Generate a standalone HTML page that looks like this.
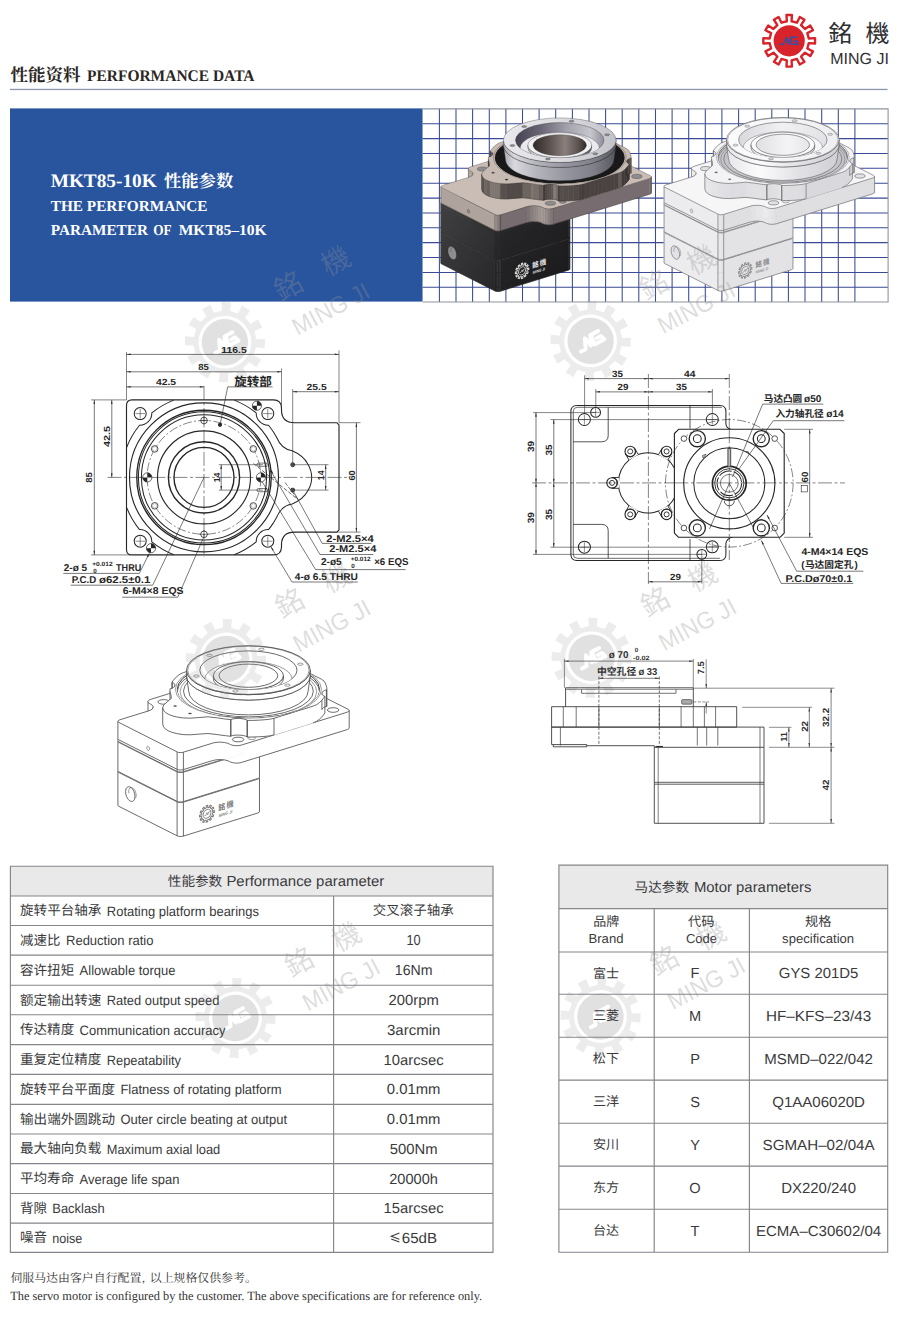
<!DOCTYPE html>
<html><head><meta charset="utf-8"><title>MKT85-10K Performance Data</title>
<style>
html,body{margin:0;padding:0;background:#fff;}
body{width:900px;height:1324px;overflow:hidden;font-family:"Liberation Sans",sans-serif;}
svg{display:block;position:absolute;left:0;top:0;}
text{font-family:"Liberation Sans","Noto Sans CJK SC",sans-serif;text-rendering:geometricPrecision;}
.sf{font-family:"Liberation Serif","Noto Serif CJK SC",serif;}
.tc{font-family:"Liberation Sans","Noto Sans CJK TC",sans-serif;}
</style></head><body>
<svg width="900" height="1324" viewBox="0 0 900 1324">
<!-- sec_header -->
<text class="sf" x="10.4" y="81.4" font-size="17.4" font-weight="bold" fill="#2b2623" textLength="70" lengthAdjust="spacingAndGlyphs">性能资料</text>
<text class="sf" x="87" y="81.4" font-size="16.2" font-weight="bold" fill="#2b2623" textLength="167.5" lengthAdjust="spacingAndGlyphs">PERFORMANCE DATA</text>
<rect x="10" y="88.8" width="877.5" height="1.3" fill="#8a97ae"/>
<path d="M786.83 21.24L786.48 14.94L791.92 14.94L791.57 21.24L796.93 22.68L799.78 17.05L804.48 19.77L801.03 25.05L804.95 28.97L810.23 25.52L812.95 30.22L807.32 33.07L808.76 38.43L815.06 38.08L815.06 43.52L808.76 43.17L807.32 48.53L812.95 51.38L810.23 56.08L804.95 52.63L801.03 56.55L804.48 61.83L799.78 64.55L796.93 58.92L791.57 60.36L791.92 66.66L786.48 66.66L786.83 60.36L781.47 58.92L778.62 64.55L773.92 61.83L777.37 56.55L773.45 52.63L768.17 56.08L765.45 51.38L771.08 48.53L769.64 43.17L763.34 43.52L763.34 38.08L769.64 38.43L771.08 33.07L765.45 30.22L768.17 25.52L773.45 28.97L777.37 25.05L773.92 19.77L778.62 17.05L781.47 22.68Z" fill="none" stroke="#d8232a" stroke-width="2.4" stroke-linejoin="round"/>
<circle cx="789.2" cy="40.8" r="15.6" fill="#d8232a"/>
<path d="M779.95 44.19L783.55 44.19L786.53 37.41L787.97 43.57L790.84 37.20L796.91 37.20M791.46 37.41L790.43 44.19L798.04 44.19L797.01 41.11L793.93 41.11" fill="none" stroke="#3a4fa0" stroke-width="1.54" stroke-linejoin="round" stroke-linecap="round"/>
<text class="tc" x="828.6" y="41.6" font-size="24" fill="#2f2f33">銘</text>
<text class="tc" x="865.4" y="41.6" font-size="24" fill="#2f2f33">機</text>
<text x="830.3" y="63.8" font-size="16" fill="#2f2f33" textLength="58.6" lengthAdjust="spacingAndGlyphs">MING JI</text>
<!-- sec_banner -->
<rect x="10" y="108.4" width="412.9" height="193.2" fill="#29559f"/>
<text class="sf" x="50.7" y="186.7" font-size="19" font-weight="bold" fill="#fff" textLength="106" lengthAdjust="spacingAndGlyphs">MKT85-10K</text>
<text class="sf" x="164" y="186.7" font-size="17.2" font-weight="bold" fill="#fff" textLength="69.2" lengthAdjust="spacingAndGlyphs">性能参数</text>
<text class="sf" x="50.7" y="210.7" font-size="15.2" font-weight="bold" fill="#fff" textLength="156.8" lengthAdjust="spacingAndGlyphs">THE PERFORMANCE</text>
<text class="sf" x="50.7" y="234.7" font-size="15.2" font-weight="bold" fill="#fff" textLength="97.3" lengthAdjust="spacingAndGlyphs">PARAMETER</text>
<text class="sf" x="153.3" y="234.7" font-size="15.2" font-weight="bold" fill="#fff" textLength="18.4" lengthAdjust="spacingAndGlyphs">OF</text>
<text class="sf" x="178.7" y="234.7" font-size="15.2" font-weight="bold" fill="#fff" textLength="88" lengthAdjust="spacingAndGlyphs">MKT85–10K</text>
<rect x="422.6" y="108.4" width="465.5" height="193.6" fill="#fff"/>
<path d="M439.4 108.4V302M456.0 108.4V302M472.6 108.4V302M489.3 108.4V302M505.9 108.4V302M522.5 108.4V302M539.1 108.4V302M555.7 108.4V302M572.4 108.4V302M589.0 108.4V302M605.6 108.4V302M622.2 108.4V302M638.8 108.4V302M655.5 108.4V302M672.1 108.4V302M688.7 108.4V302M705.3 108.4V302M721.9 108.4V302M738.6 108.4V302M755.2 108.4V302M771.8 108.4V302M788.4 108.4V302M805.0 108.4V302M821.7 108.4V302M838.3 108.4V302M854.9 108.4V302M422.6 123.8H888M422.6 138.6H888M422.6 153.5H888M422.6 168.3H888M422.6 183.2H888M422.6 198.1H888M422.6 212.9H888M422.6 227.8H888M422.6 242.6H888M422.6 257.5H888M422.6 272.4H888M422.6 287.2H888" stroke="#3a4a94" stroke-width="1.05" fill="none"/>
<path d="M422.6 108.9H888.1V302H422.6" stroke="#8f949f" stroke-width="1.1" fill="none"/>
<!-- sec_iso -->
<g transform="translate(333.7 -469.7) scale(0.91)"><defs><linearGradient id="Cbl" x1="0" y1="0" x2="1" y2="1"><stop offset="0" stop-color="#ffffff"/><stop offset="1" stop-color="#000000"/></linearGradient><linearGradient id="Ctb" x1="0" y1="0" x2="1" y2="0"><stop offset="0" stop-color="#a9a9b1"/><stop offset="0.1" stop-color="#d8d8dd"/><stop offset="0.3" stop-color="#b4b4bc"/><stop offset="0.55" stop-color="#9696a0"/><stop offset="0.8" stop-color="#80808a"/><stop offset="1" stop-color="#56565e"/></linearGradient><linearGradient id="Ctt" x1="0" y1="0" x2="1" y2="0"><stop offset="0" stop-color="#e9e9ed"/><stop offset="0.5" stop-color="#dcdce1"/><stop offset="1" stop-color="#c2c2c9"/></linearGradient><linearGradient id="Cbo" x1="0" y1="0" x2="1" y2="0"><stop offset="0" stop-color="#474250"/><stop offset="0.3" stop-color="#6d6877"/><stop offset="0.6" stop-color="#a6a5b0"/><stop offset="0.85" stop-color="#c6c6ce"/><stop offset="1" stop-color="#8d8c97"/></linearGradient><linearGradient id="Cb2" x1="0" y1="0" x2="1" y2="0"><stop offset="0" stop-color="#2f2a2a"/><stop offset="0.3" stop-color="#5a504e"/><stop offset="0.6" stop-color="#8a7f7b"/><stop offset="0.85" stop-color="#5b5250"/><stop offset="1" stop-color="#2e2928"/></linearGradient></defs><path d="M257.8 813.0L258.9 812.5L258.9 778.6L257.8 779.1Z" fill="#1b1b1d" stroke="#1b1b1d" stroke-width="0.5"/><path d="M258.9 812.5L259.5 811.8L259.5 778.0L258.9 778.6Z" fill="#1b1b1d" stroke="#1b1b1d" stroke-width="0.5"/><path d="M117.9 805.0L118.0 805.7L118.0 771.8L117.9 771.1Z" fill="#2b2b2d" stroke="#2b2b2d" stroke-width="0.5"/><path d="M118.0 805.7L118.8 806.3L118.8 772.5L118.0 771.8Z" fill="#2b2b2d" stroke="#2b2b2d" stroke-width="0.5"/><path d="M118.8 806.3L177.1 835.8L177.1 801.9L118.8 772.5Z" fill="#2b2b2d" stroke="#2b2b2d" stroke-width="0.5"/><path d="M177.1 835.8L178.4 836.3L178.4 802.4L177.1 801.9Z" fill="#28282a" stroke="#28282a" stroke-width="0.5"/><path d="M178.4 836.3L180.1 836.5L180.1 802.6L178.4 802.4Z" fill="#252527" stroke="#252527" stroke-width="0.5"/><path d="M180.1 836.5L181.8 836.4L181.8 802.6L180.1 802.6Z" fill="#212123" stroke="#212123" stroke-width="0.5"/><path d="M181.8 836.4L183.4 836.1L183.4 802.2L181.8 802.6Z" fill="#1e1e20" stroke="#1e1e20" stroke-width="0.5"/><path d="M183.4 836.1L257.8 813.0L257.8 779.1L183.4 802.2Z" fill="#1b1b1d" stroke="#1b1b1d" stroke-width="0.5"/><path d="M257.8 813.0L258.9 812.5L259.5 811.8M117.9 805.0L118.0 805.7L118.8 806.3L177.1 835.8L178.4 836.3L180.1 836.5L181.8 836.4L183.4 836.1L257.8 813.0M259.5 811.8L259.5 778.0M117.9 805.0L117.9 771.1M177.1 835.8L177.1 801.9M183.4 836.1L183.4 802.2" fill="none" stroke="#2a2624" stroke-width="0.35" stroke-linejoin="round"/><path d="M257.8 779.1L258.9 778.6L259.5 778.0L259.3 777.3L258.5 776.6L200.2 747.2L198.9 746.7L197.3 746.5L195.5 746.5L193.9 746.9L119.5 770.0L118.4 770.5L117.9 771.1L118.0 771.8L118.8 772.5L177.1 801.9L178.4 802.4L180.1 802.6L181.8 802.6L183.4 802.2Z" fill="#2c2c2e" stroke="#2a2624" stroke-width="0.35" stroke-linejoin="round"/>
<path d="M257.8 778.5L258.9 778.0L258.9 748.5L257.8 749.1Z" fill="#1b1b1d" stroke="#1b1b1d" stroke-width="0.5"/><path d="M258.9 778.0L259.5 777.3L259.5 747.9L258.9 748.5Z" fill="#1b1b1d" stroke="#1b1b1d" stroke-width="0.5"/><path d="M117.9 770.5L118.0 771.2L118.0 741.7L117.9 741.1Z" fill="#2b2b2d" stroke="#2b2b2d" stroke-width="0.5"/><path d="M118.0 771.2L118.8 771.8L118.8 742.4L118.0 741.7Z" fill="#2b2b2d" stroke="#2b2b2d" stroke-width="0.5"/><path d="M118.8 771.8L177.1 801.3L177.1 771.9L118.8 742.4Z" fill="#2b2b2d" stroke="#2b2b2d" stroke-width="0.5"/><path d="M177.1 801.3L178.4 801.8L178.4 772.3L177.1 771.9Z" fill="#28282a" stroke="#28282a" stroke-width="0.5"/><path d="M178.4 801.8L180.1 802.0L180.1 772.5L178.4 772.3Z" fill="#252527" stroke="#252527" stroke-width="0.5"/><path d="M180.1 802.0L181.8 801.9L181.8 772.5L180.1 772.5Z" fill="#212123" stroke="#212123" stroke-width="0.5"/><path d="M181.8 801.9L183.4 801.6L183.4 772.2L181.8 772.5Z" fill="#1e1e20" stroke="#1e1e20" stroke-width="0.5"/><path d="M183.4 801.6L257.8 778.5L257.8 749.1L183.4 772.2Z" fill="#1b1b1d" stroke="#1b1b1d" stroke-width="0.5"/><path d="M257.8 778.5L258.9 778.0L259.5 777.3M117.9 770.5L118.0 771.2L118.8 771.8L177.1 801.3L178.4 801.8L180.1 802.0L181.8 801.9L183.4 801.6L257.8 778.5M259.5 777.3L259.5 747.9M117.9 770.5L117.9 741.1M177.1 801.3L177.1 771.9M183.4 801.6L183.4 772.2" fill="none" stroke="#2a2624" stroke-width="0.35" stroke-linejoin="round"/><path d="M257.8 749.1L258.9 748.5L259.5 747.9L259.3 747.2L258.5 746.6L200.2 717.1L198.9 716.6L197.3 716.4L195.5 716.5L193.9 716.8L119.5 739.9L118.4 740.4L117.9 741.1L118.0 741.7L118.8 742.4L177.1 771.9L178.4 772.3L180.1 772.5L181.8 772.5L183.4 772.2Z" fill="#2c2c2e" stroke="#2a2624" stroke-width="0.35" stroke-linejoin="round"/>
<path d="M257.8 748.6L258.9 748.1L258.9 746.0L257.8 746.5Z" fill="#1b1b1d" stroke="#1b1b1d" stroke-width="0.5"/><path d="M258.9 748.1L259.5 747.4L259.5 745.3L258.9 746.0Z" fill="#1b1b1d" stroke="#1b1b1d" stroke-width="0.5"/><path d="M117.9 740.6L118.0 741.3L118.0 739.2L117.9 738.5Z" fill="#2b2b2d" stroke="#2b2b2d" stroke-width="0.5"/><path d="M118.0 741.3L118.8 741.9L118.8 739.8L118.0 739.2Z" fill="#2b2b2d" stroke="#2b2b2d" stroke-width="0.5"/><path d="M118.8 741.9L177.1 771.4L177.1 769.3L118.8 739.8Z" fill="#2b2b2d" stroke="#2b2b2d" stroke-width="0.5"/><path d="M177.1 771.4L178.4 771.8L178.4 769.8L177.1 769.3Z" fill="#28282a" stroke="#28282a" stroke-width="0.5"/><path d="M178.4 771.8L180.1 772.0L180.1 770.0L178.4 769.8Z" fill="#252527" stroke="#252527" stroke-width="0.5"/><path d="M180.1 772.0L181.8 772.0L181.8 769.9L180.1 770.0Z" fill="#212123" stroke="#212123" stroke-width="0.5"/><path d="M181.8 772.0L183.4 771.7L183.4 769.6L181.8 769.9Z" fill="#1e1e20" stroke="#1e1e20" stroke-width="0.5"/><path d="M183.4 771.7L257.8 748.6L257.8 746.5L183.4 769.6Z" fill="#1b1b1d" stroke="#1b1b1d" stroke-width="0.5"/><path d="M257.8 748.6L258.9 748.1L259.5 747.4M117.9 740.6L118.0 741.3L118.8 741.9L177.1 771.4L178.4 771.8L180.1 772.0L181.8 772.0L183.4 771.7L257.8 748.6M259.5 747.4L259.5 745.3M117.9 740.6L117.9 738.5M177.1 771.4L177.1 769.3M183.4 771.7L183.4 769.6" fill="none" stroke="#2a2624" stroke-width="0.35" stroke-linejoin="round"/>
<path d="M116.0 804.9L179.8 837.2L179.8 770.7L116.0 738.4Z" fill="url(#Cbl)" opacity="0.10"/>
<path d="M179.8 837.2L261.3 811.9L261.3 745.4L179.8 770.7Z" fill="url(#Cbl)" opacity="0.06"/>
<path d="M125.6 791.7L125.7 790.2L126.0 788.9L126.6 787.9L127.3 787.2L128.2 786.8L129.2 786.8L130.3 787.1L131.3 787.8L132.3 788.8L133.2 790.1L133.9 791.6L134.5 793.2L134.8 794.9L134.9 796.5L134.8 798.0L134.5 799.3L133.9 800.3L133.2 801.0L132.3 801.4L131.3 801.4L130.3 801.1L129.2 800.4L128.2 799.3L127.3 798.1L126.6 796.6L126.0 795.0L125.7 793.3Z" fill="#8d8d90" stroke="#2a2624" stroke-width="0.35"/>
<path d="M128.9 793.3L128.7 791.7L128.8 790.3L129.2 789.1L129.8 788.2L130.6 787.7L131.5 787.6L132.5 787.9L133.5 788.6L134.4 789.7L135.2 791.0L135.7 792.5L136.1 794.1L136.2 795.6L136.0 797.0L135.5 798.1" fill="none" stroke="#2a2624" stroke-width="0.3"/>
<g transform="translate(207.0 813.8) skewY(-17.2) scale(0.9 1)">
<path d="M-0.69 -6.26L-0.91 -8.25L0.91 -8.25L0.69 -6.26L2.53 -5.77L3.34 -7.60L4.91 -6.69L3.73 -5.08L5.08 -3.73L6.69 -4.91L7.60 -3.34L5.77 -2.53L6.26 -0.69L8.25 -0.91L8.25 0.91L6.26 0.69L5.77 2.53L7.60 3.34L6.69 4.91L5.08 3.73L3.73 5.08L4.91 6.69L3.34 7.60L2.53 5.77L0.69 6.26L0.91 8.25L-0.91 8.25L-0.69 6.26L-2.53 5.77L-3.34 7.60L-4.91 6.69L-3.73 5.08L-5.08 3.73L-6.69 4.91L-7.60 3.34L-5.77 2.53L-6.26 0.69L-8.25 0.91L-8.25 -0.91L-6.26 -0.69L-5.77 -2.53L-7.60 -3.34L-6.69 -4.91L-5.08 -3.73L-3.73 -5.08L-4.91 -6.69L-3.34 -7.60L-2.53 -5.77Z" fill="none" stroke="#e8e8e8" stroke-width="1.1" stroke-linejoin="round"/>
<circle r="4.4" fill="none" stroke="#e8e8e8" stroke-width="0.9"/><path d="M-2.8 1.2h1.6l1.2-2.4l0.8 2.4l1-2.4h2" fill="none" stroke="#e8e8e8" stroke-width="0.7"/>
<text class="tc" x="12.5" y="0.6" font-size="7.9" font-weight="bold" fill="#e8e8e8">銘</text><text class="tc" x="21.7" y="0.6" font-size="7.9" font-weight="bold" fill="#e8e8e8">機</text>
<text x="13" y="7" font-size="4.2" font-weight="bold" font-style="italic" fill="#e8e8e8" textLength="15" lengthAdjust="spacingAndGlyphs">MING JI</text>
</g>
<path d="M177.1 769.3L178.4 769.8L178.4 752.4L177.1 751.9Z" fill="#a69b96" stroke="#a69b96" stroke-width="0.5"/><path d="M178.4 769.8L180.1 770.0L180.1 752.6L178.4 752.4Z" fill="#998e8b" stroke="#998e8b" stroke-width="0.5"/><path d="M180.1 770.0L181.8 769.9L181.8 752.5L180.1 752.6Z" fill="#8d8382" stroke="#8d8382" stroke-width="0.5"/><path d="M181.8 769.9L183.4 769.6L183.4 752.2L181.8 752.5Z" fill="#807677" stroke="#807677" stroke-width="0.5"/><path d="M183.4 769.6L212.4 760.6L212.4 743.2L183.4 752.2Z" fill="#776d70" stroke="#776d70" stroke-width="0.5"/><path d="M212.4 760.6L215.1 760.0L215.1 742.5L212.4 743.2Z" fill="#7e7375" stroke="#7e7375" stroke-width="0.5"/><path d="M215.1 760.0L218.2 759.6L218.2 742.2L215.1 742.5Z" fill="#877d7d" stroke="#877d7d" stroke-width="0.5"/><path d="M218.2 759.6L221.3 759.6L221.3 742.2L218.2 742.2Z" fill="#8f8584" stroke="#8f8584" stroke-width="0.5"/><path d="M221.3 759.6L224.4 759.9L224.4 742.5L221.3 742.2Z" fill="#978c89" stroke="#978c89" stroke-width="0.5"/><path d="M224.4 759.9L227.1 760.5L227.1 743.1L224.4 742.5Z" fill="#9f9490" stroke="#9f9490" stroke-width="0.5"/><path d="M227.1 760.5L229.4 761.4L229.4 744.0L227.1 743.1Z" fill="#a89e98" stroke="#a89e98" stroke-width="0.5"/><path d="M229.4 761.4L230.4 762.0L230.4 744.5L229.4 744.0Z" fill="#afa49d" stroke="#afa49d" stroke-width="0.5"/><path d="M230.4 762.0L232.7 762.7L232.7 745.3L230.4 744.5Z" fill="#a69b96" stroke="#a69b96" stroke-width="0.5"/><path d="M232.7 762.7L235.6 763.1L235.6 745.7L232.7 745.3Z" fill="#998e8b" stroke="#998e8b" stroke-width="0.5"/><path d="M235.6 763.1L238.6 763.0L238.6 745.6L235.6 745.7Z" fill="#8d8382" stroke="#8d8382" stroke-width="0.5"/><path d="M238.6 763.0L241.3 762.5L241.3 745.1L238.6 745.6Z" fill="#807677" stroke="#807677" stroke-width="0.5"/><path d="M241.3 762.5L347.2 729.6L347.2 712.2L241.3 745.1Z" fill="#776d70" stroke="#776d70" stroke-width="0.5"/><path d="M347.2 729.6L348.8 728.7L348.8 711.3L347.2 712.2Z" fill="#776d70" stroke="#776d70" stroke-width="0.5"/><path d="M348.8 728.7L349.2 727.7L349.2 710.3L348.8 711.3Z" fill="#776d70" stroke="#776d70" stroke-width="0.5"/><path d="M148.0 718.8L148.2 720.0L148.2 702.6L148.0 701.4Z" fill="#afa49d" stroke="#afa49d" stroke-width="0.5"/><path d="M148.2 720.0L149.6 721.1L149.6 703.6L148.2 702.6Z" fill="#afa49d" stroke="#afa49d" stroke-width="0.5"/><path d="M149.6 721.1L150.7 721.6L150.7 704.2L149.6 703.6Z" fill="#afa49d" stroke="#afa49d" stroke-width="0.5"/><path d="M150.7 721.6L152.3 722.7L152.3 705.3L150.7 704.2Z" fill="#afa49d" stroke="#afa49d" stroke-width="0.5"/><path d="M152.3 722.7L153.1 723.9L153.1 706.5L152.3 705.3Z" fill="#afa49d" stroke="#afa49d" stroke-width="0.5"/><path d="M117.9 738.5L118.0 739.2L118.0 721.8L117.9 721.1Z" fill="#afa49d" stroke="#afa49d" stroke-width="0.5"/><path d="M118.0 739.2L118.8 739.8L118.8 722.4L118.0 721.8Z" fill="#afa49d" stroke="#afa49d" stroke-width="0.5"/><path d="M118.8 739.8L177.1 769.3L177.1 751.9L118.8 722.4Z" fill="#afa49d" stroke="#afa49d" stroke-width="0.5"/><path d="M177.1 769.3L178.4 769.8L180.1 770.0L181.8 769.9L183.4 769.6L212.4 760.6L215.1 760.0L218.2 759.6L221.3 759.6L224.4 759.9L227.1 760.5L229.4 761.4L230.4 762.0L232.7 762.7L235.6 763.1L238.6 763.0L241.3 762.5L347.2 729.6L348.8 728.7L349.2 727.7M148.0 718.8L148.2 720.0L149.6 721.1L150.7 721.6L152.3 722.7L153.1 723.9M117.9 738.5L118.0 739.2L118.8 739.8L177.1 769.3M177.1 769.3L177.1 751.9M183.4 769.6L183.4 752.2M349.2 727.7L349.2 710.3M148.0 718.8L148.0 701.4M153.1 723.9L153.1 706.5M117.9 738.5L117.9 721.1" fill="none" stroke="#2a2624" stroke-width="0.35" stroke-linejoin="round"/><path d="M177.1 751.9L178.4 752.4L180.1 752.6L181.8 752.5L183.4 752.2L212.4 743.2L215.1 742.5L218.2 742.2L221.3 742.2L224.4 742.5L227.1 743.1L229.4 744.0L230.4 744.5L232.7 745.3L235.6 745.7L238.6 745.6L241.3 745.1L347.2 712.2L348.8 711.3L349.2 710.3L348.1 709.3L264.1 666.8L261.9 666.1L259.3 666.0L256.8 666.4L150.9 699.3L148.9 700.2L148.0 701.4L148.2 702.6L149.6 703.6L150.7 704.2L152.3 705.3L153.1 706.5L153.1 707.7L152.4 708.9L150.8 710.0L148.6 710.9L119.5 719.9L118.4 720.4L117.9 721.1L118.0 721.8L118.8 722.4Z" fill="#c9bdb5" stroke="#2a2624" stroke-width="0.35" stroke-linejoin="round"/>
<path d="M146.8 747.7L146.9 746.8L147.3 746.3L147.8 746.2L148.4 746.5L149.0 747.2L149.4 748.1L149.5 749.1L149.4 749.9L149.0 750.4L148.4 750.5L147.8 750.2L147.3 749.5L146.9 748.6Z" fill="#8d8d90" stroke="#2a2624" stroke-width="0.3"/>
<ellipse cx="238.1" cy="739.5" rx="5.7" ry="2.3" fill="#8d8d90" stroke="#2a2624" stroke-width="0.35"/>
<ellipse cx="333.1" cy="710.0" rx="5.7" ry="2.3" fill="#8d8d90" stroke="#2a2624" stroke-width="0.35"/>
<ellipse cx="163.6" cy="701.9" rx="5.7" ry="2.3" fill="#8d8d90" stroke="#2a2624" stroke-width="0.35"/>
<ellipse cx="258.7" cy="672.4" rx="5.7" ry="2.3" fill="#8d8d90" stroke="#2a2624" stroke-width="0.35"/>
<ellipse cx="251.7" cy="738.1" rx="3.8" ry="1.5" fill="#8d8d90" stroke="#2a2624" stroke-width="0.3"/>
<path d="M168.3 730.8L171.9 732.3L171.9 715.7L168.3 714.2Z" fill="#69605d" stroke="#69605d" stroke-width="0.5"/><path d="M171.9 732.3L176.8 733.6L176.8 717.0L171.9 715.7Z" fill="#807773" stroke="#807773" stroke-width="0.5"/><path d="M176.8 733.6L183.1 734.6L183.1 717.9L176.8 717.0Z" fill="#7e7671" stroke="#7e7671" stroke-width="0.5"/><path d="M183.1 734.6L190.2 734.8L190.2 718.2L183.1 717.9Z" fill="#57504d" stroke="#57504d" stroke-width="0.5"/><path d="M190.2 734.8L198.2 734.2L198.2 717.6L190.2 718.2Z" fill="#514a48" stroke="#514a48" stroke-width="0.5"/><path d="M198.2 734.2L207.9 733.5L207.9 716.8L198.2 717.6Z" fill="#514a47" stroke="#514a47" stroke-width="0.5"/><path d="M207.9 733.5L217.5 734.6L217.5 717.9L207.9 716.8Z" fill="#6c645f" stroke="#6c645f" stroke-width="0.5"/><path d="M217.5 734.6L220.1 735.0L220.1 718.3L217.5 717.9Z" fill="#7f7672" stroke="#7f7672" stroke-width="0.5"/><path d="M220.1 735.0L225.4 735.7L225.4 719.1L220.1 718.3Z" fill="#776e69" stroke="#776e69" stroke-width="0.5"/><path d="M225.4 735.7L230.8 736.3L230.8 719.6L225.4 719.1Z" fill="#68605c" stroke="#68605c" stroke-width="0.5"/><path d="M230.8 736.1L232.7 735.6L232.7 719.0L230.8 719.5Z" fill="#463f3d" stroke="#463f3d" stroke-width="0.5"/><path d="M232.7 735.6L234.9 735.2L234.9 718.6L232.7 719.0Z" fill="#4c4643" stroke="#4c4643" stroke-width="0.5"/><path d="M234.9 735.2L237.2 735.1L237.2 718.4L234.9 718.6Z" fill="#514a48" stroke="#514a48" stroke-width="0.5"/><path d="M237.2 735.1L239.5 735.1L239.5 718.4L237.2 718.4Z" fill="#564e4c" stroke="#564e4c" stroke-width="0.5"/><path d="M239.5 735.1L241.8 735.3L241.8 718.7L239.5 718.4Z" fill="#605955" stroke="#605955" stroke-width="0.5"/><path d="M241.8 735.3L243.9 735.7L243.9 719.0L241.8 718.7Z" fill="#89807b" stroke="#89807b" stroke-width="0.5"/><path d="M243.9 735.7L245.8 736.2L245.8 719.6L243.9 719.0Z" fill="#776e6a" stroke="#776e6a" stroke-width="0.5"/><path d="M245.8 736.2L247.3 736.9L247.3 720.3L245.8 719.6Z" fill="#6a625e" stroke="#6a625e" stroke-width="0.5"/><path d="M247.1 737.1L252.8 737.0L252.8 720.4L247.1 720.4Z" fill="#554e4b" stroke="#554e4b" stroke-width="0.5"/><path d="M252.8 737.0L258.4 736.8L258.4 720.2L252.8 720.4Z" fill="#534c4a" stroke="#534c4a" stroke-width="0.5"/><path d="M258.4 736.8L263.9 736.5L263.9 719.8L258.4 720.2Z" fill="#524b48" stroke="#524b48" stroke-width="0.5"/><path d="M263.9 736.5L269.4 735.9L269.4 719.3L263.9 719.8Z" fill="#504947" stroke="#504947" stroke-width="0.5"/><path d="M269.4 735.9L274.0 734.9L274.0 718.3L269.4 719.3Z" fill="#494240" stroke="#494240" stroke-width="0.5"/><path d="M274.0 734.9L278.3 733.6L278.3 717.0L274.0 718.3Z" fill="#494240" stroke="#494240" stroke-width="0.5"/><path d="M278.3 733.6L282.6 732.2L282.6 715.6L278.3 717.0Z" fill="#494240" stroke="#494240" stroke-width="0.5"/><path d="M282.6 732.2L287.0 730.9L287.0 714.3L282.6 715.6Z" fill="#494240" stroke="#494240" stroke-width="0.5"/><path d="M287.0 730.9L291.4 729.5L291.4 712.9L287.0 714.3Z" fill="#494240" stroke="#494240" stroke-width="0.5"/><path d="M291.4 729.5L295.8 728.1L295.8 711.5L291.4 712.9Z" fill="#494240" stroke="#494240" stroke-width="0.5"/><path d="M295.8 728.1L300.2 726.8L300.2 710.1L295.8 711.5Z" fill="#494240" stroke="#494240" stroke-width="0.5"/><path d="M300.2 726.8L304.6 725.4L304.6 708.8L300.2 710.1Z" fill="#494240" stroke="#494240" stroke-width="0.5"/><path d="M304.6 725.4L308.9 724.1L308.9 707.4L304.6 708.8Z" fill="#494240" stroke="#494240" stroke-width="0.5"/><path d="M308.9 724.1L313.2 722.8L313.2 706.1L308.9 707.4Z" fill="#494240" stroke="#494240" stroke-width="0.5"/><path d="M313.2 722.8L316.8 721.2L316.8 704.6L313.2 706.1Z" fill="#625a57" stroke="#625a57" stroke-width="0.5"/><path d="M316.8 721.2L319.4 719.2L319.4 702.6L316.8 704.6Z" fill="#423c3a" stroke="#423c3a" stroke-width="0.5"/><path d="M319.4 719.2L321.6 717.2L321.6 700.5L319.4 702.6Z" fill="#3f3a38" stroke="#3f3a38" stroke-width="0.5"/><path d="M321.6 717.2L323.4 715.1L323.4 698.4L321.6 700.5Z" fill="#3d3836" stroke="#3d3836" stroke-width="0.5"/><path d="M323.4 715.1L324.9 712.9L324.9 696.3L323.4 698.4Z" fill="#3b3634" stroke="#3b3634" stroke-width="0.5"/><path d="M321.9 709.5L322.4 708.6L322.4 692.0L321.9 692.9Z" fill="#3a3533" stroke="#3a3533" stroke-width="0.5"/><path d="M322.4 708.6L323.3 707.8L323.3 691.1L322.4 692.0Z" fill="#403a39" stroke="#403a39" stroke-width="0.5"/><path d="M323.3 707.8L324.7 707.0L324.7 690.4L323.3 691.1Z" fill="#554e4b" stroke="#554e4b" stroke-width="0.5"/><path d="M324.7 707.0L326.4 706.4L326.4 689.8L324.7 690.4Z" fill="#534c4a" stroke="#534c4a" stroke-width="0.5"/><path d="M326.4 706.4L326.9 706.5L326.9 689.8L326.4 689.8Z" fill="#837975" stroke="#837975" stroke-width="0.5"/><path d="M265.9 675.6L266.0 675.8L266.0 659.2L265.9 659.0Z" fill="#4b4543" stroke="#4b4543" stroke-width="0.5"/><path d="M249.5 675.0L249.7 674.9L249.7 658.2L249.5 658.4Z" fill="#3f3a38" stroke="#3f3a38" stroke-width="0.5"/><path d="M171.9 699.0L172.3 699.0L172.3 682.4L171.9 682.4Z" fill="#524b48" stroke="#524b48" stroke-width="0.5"/><path d="M172.3 699.0L173.7 699.7L173.7 683.1L172.3 682.4Z" fill="#6d6460" stroke="#6d6460" stroke-width="0.5"/><path d="M173.7 699.7L174.5 700.6L174.5 684.0L173.7 683.1Z" fill="#615956" stroke="#615956" stroke-width="0.5"/><path d="M174.5 700.6L175.0 701.5L175.0 684.9L174.5 684.0Z" fill="#4e4845" stroke="#4e4845" stroke-width="0.5"/><path d="M170.0 707.7L170.5 709.9L170.5 693.3L170.0 691.1Z" fill="#47413f" stroke="#47413f" stroke-width="0.5"/><path d="M170.5 709.9L170.9 711.0L170.9 694.4L170.5 693.3Z" fill="#4a4441" stroke="#4a4441" stroke-width="0.5"/><path d="M170.9 711.0L171.3 715.0L171.3 698.3L170.9 694.4Z" fill="#47413f" stroke="#47413f" stroke-width="0.5"/><path d="M162.7 724.2L163.6 726.9L163.6 710.3L162.7 707.6Z" fill="#4a4341" stroke="#4a4341" stroke-width="0.5"/><path d="M163.6 726.9L165.5 729.1L165.5 712.5L163.6 710.3Z" fill="#5c5451" stroke="#5c5451" stroke-width="0.5"/><path d="M165.5 729.1L168.3 730.8L168.3 714.2L165.5 712.5Z" fill="#6d6460" stroke="#6d6460" stroke-width="0.5"/><path d="M168.3 730.8L171.9 732.3L176.8 733.6L183.1 734.6L190.2 734.8L198.2 734.2L207.9 733.5L217.5 734.6L220.1 735.0L225.4 735.7L230.8 736.3M230.8 736.1L232.7 735.6L234.9 735.2L237.2 735.1L239.5 735.1L241.8 735.3L243.9 735.7L245.8 736.2L247.3 736.9M247.1 737.1L252.8 737.0L258.4 736.8L263.9 736.5L269.4 735.9L274.0 734.9M313.2 722.8L316.8 721.2L319.4 719.2L321.6 717.2L323.4 715.1L324.9 712.9M321.9 709.5L322.4 708.6L323.3 707.8L324.7 707.0L326.4 706.4L326.9 706.5M265.9 675.6L266.0 675.8M249.5 675.0L249.7 674.9M171.9 699.0L172.3 699.0L173.7 699.7L174.5 700.6L175.0 701.5M170.0 707.7L170.5 709.9L170.9 711.0L171.3 715.0M162.7 724.2L163.6 726.9L165.5 729.1L168.3 730.8M230.8 736.3L230.8 719.6M230.8 736.1L230.8 719.5M247.3 736.9L247.3 720.3M247.1 737.1L247.1 720.4M274.0 734.9L274.0 718.3M324.9 712.9L324.9 696.3M321.9 709.5L321.9 692.9M326.4 706.4L326.4 689.8M326.9 706.5L326.9 689.8M265.9 675.6L265.9 659.0M266.0 675.8L266.0 659.2M249.5 675.0L249.5 658.4M249.7 674.9L249.7 658.2M171.9 699.0L171.9 682.4M172.3 699.0L172.3 682.4M175.0 701.5L175.0 684.9M170.0 707.7L170.0 691.1M171.3 715.0L171.3 698.3M162.7 724.2L162.7 707.6" fill="none" stroke="#2a2624" stroke-width="0.35" stroke-linejoin="round"/><path d="M168.3 714.2L171.9 715.7L176.8 717.0L183.1 717.9L190.2 718.2L198.2 717.6L207.9 716.8L217.5 717.9L220.1 718.3L225.4 719.1L230.8 719.6L230.8 719.5L232.7 719.0L234.9 718.6L237.2 718.4L239.5 718.4L241.8 718.7L243.9 719.0L245.8 719.6L247.3 720.3L247.1 720.4L252.8 720.4L258.4 720.2L263.9 719.8L269.4 719.3L274.0 718.3L278.3 717.0L282.6 715.6L287.0 714.3L291.4 712.9L295.8 711.5L300.2 710.1L304.6 708.8L308.9 707.4L313.2 706.1L316.8 704.6L319.4 702.6L321.6 700.5L323.4 698.4L324.9 696.3L324.4 696.3L323.1 695.6L322.2 694.7L321.8 693.8L321.9 692.9L322.4 692.0L323.3 691.1L324.7 690.4L326.4 689.8L326.9 689.8L326.8 687.6L326.2 685.4L325.3 683.2L324.0 681.0L321.4 679.2L318.1 677.5L314.7 675.8L311.3 674.0L307.8 672.3L304.4 670.5L300.9 668.8L297.5 667.1L294.1 665.3L290.8 663.7L286.9 662.2L281.9 661.2L276.7 660.3L271.4 659.6L265.9 659.0L266.0 659.2L264.1 659.7L261.9 660.1L259.6 660.2L257.3 660.2L255.0 660.0L252.9 659.6L251.0 659.1L249.5 658.4L249.7 658.2L244.0 658.3L238.4 658.5L232.9 658.8L227.4 659.4L222.8 660.4L218.5 661.7L214.2 663.0L209.8 664.4L205.4 665.8L201.0 667.2L196.6 668.5L192.2 669.9L187.9 671.2L183.6 672.5L180.0 674.1L177.4 676.1L175.2 678.1L173.4 680.2L171.9 682.4L172.3 682.4L173.7 683.1L174.5 684.0L175.0 684.9L174.9 685.8L174.4 686.7L173.5 687.5L172.1 688.3L170.3 688.9L169.9 688.8L170.0 691.1L170.5 693.3L170.9 694.4L171.3 698.3L167.2 701.9L163.8 704.8L162.7 707.6L163.6 710.3L165.5 712.5Z" fill="#c6bab2" stroke="#2a2624" stroke-width="0.35" stroke-linejoin="round"/>
<ellipse cx="190.0" cy="713.5" rx="1.6" ry="0.6" fill="#2a2624" stroke="#2a2624" stroke-width="0.3"/>
<ellipse cx="175.1" cy="706.0" rx="1.6" ry="0.6" fill="#2a2624" stroke="#2a2624" stroke-width="0.3"/>
<ellipse cx="248.3" cy="713.7" rx="1.4" ry="0.5" fill="#2a2624" stroke="#2a2624" stroke-width="0.3"/>
<ellipse cx="248.4" cy="689.3" rx="73.0" ry="28.9" fill="#c6bab2" stroke="#2a2624" stroke-width="0.3"/>
<ellipse cx="248.4" cy="689.3" rx="71.1" ry="28.2" fill="#18181a" stroke="#2a2624" stroke-width="0.45499999999999996"/>
<clipPath id="Ccs"><ellipse cx="248.4" cy="689.3" rx="71.1" ry="28.2"/></clipPath>
<g clip-path="url(#Ccs)">
<ellipse cx="248.4" cy="691.7" rx="71.1" ry="28.2" fill="#18181a" stroke="#2a2624" stroke-width="0.35"/>
<ellipse cx="248.4" cy="691.7" rx="68.3" ry="27.1" fill="#18181a" stroke="#2a2624" stroke-width="0.3"/>
<ellipse cx="248.4" cy="691.2" rx="64.9" ry="25.7" fill="#18181a" stroke="#2a2624" stroke-width="0.35"/>
</g>
<path d="M188.7 691.2A59.7 23.7 0 0 0 308.1 691.2L310.3 675.6A61.9 24.5 0 0 1 186.5 675.6Z" fill="url(#Ctb)" stroke="#2a2624" stroke-width="0.35"/>
<path d="M186.5 675.6A61.9 24.5 0 0 0 310.3 675.6L310.3 670.2A61.9 24.5 0 0 1 186.5 670.2Z" fill="url(#Ctb)" stroke="#2a2624" stroke-width="0.35"/><ellipse cx="248.4" cy="670.2" rx="61.9" ry="24.5" fill="url(#Ctt)" stroke="#2a2624" stroke-width="0.35"/>
<ellipse cx="261.4" cy="649.3" rx="2.8" ry="1.1" fill="#8d8d90" stroke="#2a2624" stroke-width="0.3"/>
<ellipse cx="209.4" cy="655.3" rx="2.8" ry="1.1" fill="#8d8d90" stroke="#2a2624" stroke-width="0.3"/>
<ellipse cx="196.4" cy="676.1" rx="2.8" ry="1.1" fill="#8d8d90" stroke="#2a2624" stroke-width="0.3"/>
<ellipse cx="235.4" cy="691.0" rx="2.8" ry="1.1" fill="#8d8d90" stroke="#2a2624" stroke-width="0.3"/>
<ellipse cx="287.4" cy="685.1" rx="2.8" ry="1.1" fill="#8d8d90" stroke="#2a2624" stroke-width="0.3"/>
<ellipse cx="300.4" cy="664.2" rx="2.8" ry="1.1" fill="#8d8d90" stroke="#2a2624" stroke-width="0.3"/>
<ellipse cx="248.4" cy="670.2" rx="48.6" ry="19.3" fill="url(#Cbo)" stroke="#2a2624" stroke-width="0.35"/>
<clipPath id="Ccb"><ellipse cx="248.4" cy="670.2" rx="48.6" ry="19.3"/></clipPath>
<g clip-path="url(#Ccb)">
<ellipse cx="248.4" cy="678.7" rx="43.5" ry="17.2" fill="#e9e9ee" stroke="#2a2624" stroke-width="0.3"/>
<path d="M213.4 678.7A35.0 13.9 0 0 0 283.4 678.7L283.4 675.7A35.0 13.9 0 0 1 213.4 675.7Z" fill="url(#Ctb)" stroke="#2a2624" stroke-width="0.35"/><ellipse cx="248.4" cy="675.7" rx="35.0" ry="13.9" fill="#f1f1f4" stroke="#2a2624" stroke-width="0.35"/>
<ellipse cx="248.4" cy="675.7" rx="29.3" ry="11.6" fill="url(#Cb2)" stroke="#2a2624" stroke-width="0.35"/>
</g></g>
<g transform="translate(556.8 -470.1) scale(0.91)"><defs><linearGradient id="Gtb" x1="0" y1="0" x2="1" y2="0"><stop offset="0" stop-color="#e6e6ea"/><stop offset="0.3" stop-color="#fbfbfc"/><stop offset="0.65" stop-color="#e1e1e5"/><stop offset="1" stop-color="#cfcfd4"/></linearGradient><linearGradient id="Gtt" x1="0" y1="0" x2="1" y2="0"><stop offset="0" stop-color="#fbfbfc"/><stop offset="1" stop-color="#efeff2"/></linearGradient><linearGradient id="Gbo" x1="0" y1="0" x2="1" y2="0"><stop offset="0" stop-color="#d9d9de"/><stop offset="0.5" stop-color="#f1f1f3"/><stop offset="1" stop-color="#e2e2e6"/></linearGradient><linearGradient id="Gb2" x1="0" y1="0" x2="1" y2="0"><stop offset="0" stop-color="#e0e0e4"/><stop offset="0.6" stop-color="#f4f4f6"/><stop offset="1" stop-color="#e6e6ea"/></linearGradient></defs><path d="M257.8 813.0L258.9 812.5L258.9 778.6L257.8 779.1Z" fill="#e3e3e6" stroke="#e3e3e6" stroke-width="0.5"/><path d="M258.9 812.5L259.5 811.8L259.5 778.0L258.9 778.6Z" fill="#e3e3e6" stroke="#e3e3e6" stroke-width="0.5"/><path d="M117.9 805.0L118.0 805.7L118.0 771.8L117.9 771.1Z" fill="#ececee" stroke="#ececee" stroke-width="0.5"/><path d="M118.0 805.7L118.8 806.3L118.8 772.5L118.0 771.8Z" fill="#ececee" stroke="#ececee" stroke-width="0.5"/><path d="M118.8 806.3L177.1 835.8L177.1 801.9L118.8 772.5Z" fill="#ececee" stroke="#ececee" stroke-width="0.5"/><path d="M177.1 835.8L178.4 836.3L178.4 802.4L177.1 801.9Z" fill="#ebebed" stroke="#ebebed" stroke-width="0.5"/><path d="M178.4 836.3L180.1 836.5L180.1 802.6L178.4 802.4Z" fill="#e8e8eb" stroke="#e8e8eb" stroke-width="0.5"/><path d="M180.1 836.5L181.8 836.4L181.8 802.6L180.1 802.6Z" fill="#e7e7e9" stroke="#e7e7e9" stroke-width="0.5"/><path d="M181.8 836.4L183.4 836.1L183.4 802.2L181.8 802.6Z" fill="#e4e4e7" stroke="#e4e4e7" stroke-width="0.5"/><path d="M183.4 836.1L257.8 813.0L257.8 779.1L183.4 802.2Z" fill="#e3e3e6" stroke="#e3e3e6" stroke-width="0.5"/><path d="M257.8 813.0L258.9 812.5L259.5 811.8M117.9 805.0L118.0 805.7L118.8 806.3L177.1 835.8L178.4 836.3L180.1 836.5L181.8 836.4L183.4 836.1L257.8 813.0M259.5 811.8L259.5 778.0M117.9 805.0L117.9 771.1M177.1 835.8L177.1 801.9M183.4 836.1L183.4 802.2" fill="none" stroke="#5a5a5e" stroke-width="0.65" stroke-linejoin="round"/><path d="M257.8 779.1L258.9 778.6L259.5 778.0L259.3 777.3L258.5 776.6L200.2 747.2L198.9 746.7L197.3 746.5L195.5 746.5L193.9 746.9L119.5 770.0L118.4 770.5L117.9 771.1L118.0 771.8L118.8 772.5L177.1 801.9L178.4 802.4L180.1 802.6L181.8 802.6L183.4 802.2Z" fill="#f4f4f5" stroke="#5a5a5e" stroke-width="0.65" stroke-linejoin="round"/>
<path d="M257.8 778.5L258.9 778.0L258.9 748.5L257.8 749.1Z" fill="#e3e3e6" stroke="#e3e3e6" stroke-width="0.5"/><path d="M258.9 778.0L259.5 777.3L259.5 747.9L258.9 748.5Z" fill="#e3e3e6" stroke="#e3e3e6" stroke-width="0.5"/><path d="M117.9 770.5L118.0 771.2L118.0 741.7L117.9 741.1Z" fill="#ececee" stroke="#ececee" stroke-width="0.5"/><path d="M118.0 771.2L118.8 771.8L118.8 742.4L118.0 741.7Z" fill="#ececee" stroke="#ececee" stroke-width="0.5"/><path d="M118.8 771.8L177.1 801.3L177.1 771.9L118.8 742.4Z" fill="#ececee" stroke="#ececee" stroke-width="0.5"/><path d="M177.1 801.3L178.4 801.8L178.4 772.3L177.1 771.9Z" fill="#ebebed" stroke="#ebebed" stroke-width="0.5"/><path d="M178.4 801.8L180.1 802.0L180.1 772.5L178.4 772.3Z" fill="#e8e8eb" stroke="#e8e8eb" stroke-width="0.5"/><path d="M180.1 802.0L181.8 801.9L181.8 772.5L180.1 772.5Z" fill="#e7e7e9" stroke="#e7e7e9" stroke-width="0.5"/><path d="M181.8 801.9L183.4 801.6L183.4 772.2L181.8 772.5Z" fill="#e4e4e7" stroke="#e4e4e7" stroke-width="0.5"/><path d="M183.4 801.6L257.8 778.5L257.8 749.1L183.4 772.2Z" fill="#e3e3e6" stroke="#e3e3e6" stroke-width="0.5"/><path d="M257.8 778.5L258.9 778.0L259.5 777.3M117.9 770.5L118.0 771.2L118.8 771.8L177.1 801.3L178.4 801.8L180.1 802.0L181.8 801.9L183.4 801.6L257.8 778.5M259.5 777.3L259.5 747.9M117.9 770.5L117.9 741.1M177.1 801.3L177.1 771.9M183.4 801.6L183.4 772.2" fill="none" stroke="#5a5a5e" stroke-width="0.65" stroke-linejoin="round"/><path d="M257.8 749.1L258.9 748.5L259.5 747.9L259.3 747.2L258.5 746.6L200.2 717.1L198.9 716.6L197.3 716.4L195.5 716.5L193.9 716.8L119.5 739.9L118.4 740.4L117.9 741.1L118.0 741.7L118.8 742.4L177.1 771.9L178.4 772.3L180.1 772.5L181.8 772.5L183.4 772.2Z" fill="#f4f4f5" stroke="#5a5a5e" stroke-width="0.65" stroke-linejoin="round"/>
<path d="M257.8 748.6L258.9 748.1L258.9 746.0L257.8 746.5Z" fill="#e3e3e6" stroke="#e3e3e6" stroke-width="0.5"/><path d="M258.9 748.1L259.5 747.4L259.5 745.3L258.9 746.0Z" fill="#e3e3e6" stroke="#e3e3e6" stroke-width="0.5"/><path d="M117.9 740.6L118.0 741.3L118.0 739.2L117.9 738.5Z" fill="#ececee" stroke="#ececee" stroke-width="0.5"/><path d="M118.0 741.3L118.8 741.9L118.8 739.8L118.0 739.2Z" fill="#ececee" stroke="#ececee" stroke-width="0.5"/><path d="M118.8 741.9L177.1 771.4L177.1 769.3L118.8 739.8Z" fill="#ececee" stroke="#ececee" stroke-width="0.5"/><path d="M177.1 771.4L178.4 771.8L178.4 769.8L177.1 769.3Z" fill="#ebebed" stroke="#ebebed" stroke-width="0.5"/><path d="M178.4 771.8L180.1 772.0L180.1 770.0L178.4 769.8Z" fill="#e8e8eb" stroke="#e8e8eb" stroke-width="0.5"/><path d="M180.1 772.0L181.8 772.0L181.8 769.9L180.1 770.0Z" fill="#e7e7e9" stroke="#e7e7e9" stroke-width="0.5"/><path d="M181.8 772.0L183.4 771.7L183.4 769.6L181.8 769.9Z" fill="#e4e4e7" stroke="#e4e4e7" stroke-width="0.5"/><path d="M183.4 771.7L257.8 748.6L257.8 746.5L183.4 769.6Z" fill="#e3e3e6" stroke="#e3e3e6" stroke-width="0.5"/><path d="M257.8 748.6L258.9 748.1L259.5 747.4M117.9 740.6L118.0 741.3L118.8 741.9L177.1 771.4L178.4 771.8L180.1 772.0L181.8 772.0L183.4 771.7L257.8 748.6M259.5 747.4L259.5 745.3M117.9 740.6L117.9 738.5M177.1 771.4L177.1 769.3M183.4 771.7L183.4 769.6" fill="none" stroke="#5a5a5e" stroke-width="0.65" stroke-linejoin="round"/>
<path d="M125.6 791.7L125.7 790.2L126.0 788.9L126.6 787.9L127.3 787.2L128.2 786.8L129.2 786.8L130.3 787.1L131.3 787.8L132.3 788.8L133.2 790.1L133.9 791.6L134.5 793.2L134.8 794.9L134.9 796.5L134.8 798.0L134.5 799.3L133.9 800.3L133.2 801.0L132.3 801.4L131.3 801.4L130.3 801.1L129.2 800.4L128.2 799.3L127.3 798.1L126.6 796.6L126.0 795.0L125.7 793.3Z" fill="#e2e2e6" stroke="#5a5a5e" stroke-width="0.65"/>
<path d="M128.9 793.3L128.7 791.7L128.8 790.3L129.2 789.1L129.8 788.2L130.6 787.7L131.5 787.6L132.5 787.9L133.5 788.6L134.4 789.7L135.2 791.0L135.7 792.5L136.1 794.1L136.2 795.6L136.0 797.0L135.5 798.1" fill="none" stroke="#5a5a5e" stroke-width="0.45"/>
<g transform="translate(207.0 813.8) skewY(-17.2) scale(0.9 1)">
<path d="M-0.69 -6.26L-0.91 -8.25L0.91 -8.25L0.69 -6.26L2.53 -5.77L3.34 -7.60L4.91 -6.69L3.73 -5.08L5.08 -3.73L6.69 -4.91L7.60 -3.34L5.77 -2.53L6.26 -0.69L8.25 -0.91L8.25 0.91L6.26 0.69L5.77 2.53L7.60 3.34L6.69 4.91L5.08 3.73L3.73 5.08L4.91 6.69L3.34 7.60L2.53 5.77L0.69 6.26L0.91 8.25L-0.91 8.25L-0.69 6.26L-2.53 5.77L-3.34 7.60L-4.91 6.69L-3.73 5.08L-5.08 3.73L-6.69 4.91L-7.60 3.34L-5.77 2.53L-6.26 0.69L-8.25 0.91L-8.25 -0.91L-6.26 -0.69L-5.77 -2.53L-7.60 -3.34L-6.69 -4.91L-5.08 -3.73L-3.73 -5.08L-4.91 -6.69L-3.34 -7.60L-2.53 -5.77Z" fill="none" stroke="#8a8a8e" stroke-width="1.1" stroke-linejoin="round"/>
<circle r="4.4" fill="none" stroke="#8a8a8e" stroke-width="0.9"/><path d="M-2.8 1.2h1.6l1.2-2.4l0.8 2.4l1-2.4h2" fill="none" stroke="#8a8a8e" stroke-width="0.7"/>
<text class="tc" x="12.5" y="0.6" font-size="7.9" font-weight="bold" fill="#8a8a8e">銘</text><text class="tc" x="21.7" y="0.6" font-size="7.9" font-weight="bold" fill="#8a8a8e">機</text>
<text x="13" y="7" font-size="4.2" font-weight="bold" font-style="italic" fill="#8a8a8e" textLength="15" lengthAdjust="spacingAndGlyphs">MING JI</text>
</g>
<path d="M177.1 769.3L178.4 769.8L178.4 752.4L177.1 751.9Z" fill="#eaeaec" stroke="#eaeaec" stroke-width="0.5"/><path d="M178.4 769.8L180.1 770.0L180.1 752.6L178.4 752.4Z" fill="#e7e7e9" stroke="#e7e7e9" stroke-width="0.5"/><path d="M180.1 770.0L181.8 769.9L181.8 752.5L180.1 752.6Z" fill="#e4e4e7" stroke="#e4e4e7" stroke-width="0.5"/><path d="M181.8 769.9L183.4 769.6L183.4 752.2L181.8 752.5Z" fill="#e1e1e4" stroke="#e1e1e4" stroke-width="0.5"/><path d="M183.4 769.6L212.4 760.6L212.4 743.2L183.4 752.2Z" fill="#dfdfe2" stroke="#dfdfe2" stroke-width="0.5"/><path d="M212.4 760.6L215.1 760.0L215.1 742.5L212.4 743.2Z" fill="#e1e1e3" stroke="#e1e1e3" stroke-width="0.5"/><path d="M215.1 760.0L218.2 759.6L218.2 742.2L215.1 742.5Z" fill="#e3e3e6" stroke="#e3e3e6" stroke-width="0.5"/><path d="M218.2 759.6L221.3 759.6L221.3 742.2L218.2 742.2Z" fill="#e5e5e7" stroke="#e5e5e7" stroke-width="0.5"/><path d="M221.3 759.6L224.4 759.9L224.4 742.5L221.3 742.2Z" fill="#e6e6e9" stroke="#e6e6e9" stroke-width="0.5"/><path d="M224.4 759.9L227.1 760.5L227.1 743.1L224.4 742.5Z" fill="#e8e8ea" stroke="#e8e8ea" stroke-width="0.5"/><path d="M227.1 760.5L229.4 761.4L229.4 744.0L227.1 743.1Z" fill="#eaeaed" stroke="#eaeaed" stroke-width="0.5"/><path d="M229.4 761.4L230.4 762.0L230.4 744.5L229.4 744.0Z" fill="#ececee" stroke="#ececee" stroke-width="0.5"/><path d="M230.4 762.0L232.7 762.7L232.7 745.3L230.4 744.5Z" fill="#eaeaec" stroke="#eaeaec" stroke-width="0.5"/><path d="M232.7 762.7L235.6 763.1L235.6 745.7L232.7 745.3Z" fill="#e7e7e9" stroke="#e7e7e9" stroke-width="0.5"/><path d="M235.6 763.1L238.6 763.0L238.6 745.6L235.6 745.7Z" fill="#e4e4e7" stroke="#e4e4e7" stroke-width="0.5"/><path d="M238.6 763.0L241.3 762.5L241.3 745.1L238.6 745.6Z" fill="#e1e1e4" stroke="#e1e1e4" stroke-width="0.5"/><path d="M241.3 762.5L347.2 729.6L347.2 712.2L241.3 745.1Z" fill="#dfdfe2" stroke="#dfdfe2" stroke-width="0.5"/><path d="M347.2 729.6L348.8 728.7L348.8 711.3L347.2 712.2Z" fill="#dfdfe2" stroke="#dfdfe2" stroke-width="0.5"/><path d="M348.8 728.7L349.2 727.7L349.2 710.3L348.8 711.3Z" fill="#dfdfe2" stroke="#dfdfe2" stroke-width="0.5"/><path d="M148.0 718.8L148.2 720.0L148.2 702.6L148.0 701.4Z" fill="#ececee" stroke="#ececee" stroke-width="0.5"/><path d="M148.2 720.0L149.6 721.1L149.6 703.6L148.2 702.6Z" fill="#ececee" stroke="#ececee" stroke-width="0.5"/><path d="M149.6 721.1L150.7 721.6L150.7 704.2L149.6 703.6Z" fill="#ececee" stroke="#ececee" stroke-width="0.5"/><path d="M150.7 721.6L152.3 722.7L152.3 705.3L150.7 704.2Z" fill="#ececee" stroke="#ececee" stroke-width="0.5"/><path d="M152.3 722.7L153.1 723.9L153.1 706.5L152.3 705.3Z" fill="#ececee" stroke="#ececee" stroke-width="0.5"/><path d="M117.9 738.5L118.0 739.2L118.0 721.8L117.9 721.1Z" fill="#ececee" stroke="#ececee" stroke-width="0.5"/><path d="M118.0 739.2L118.8 739.8L118.8 722.4L118.0 721.8Z" fill="#ececee" stroke="#ececee" stroke-width="0.5"/><path d="M118.8 739.8L177.1 769.3L177.1 751.9L118.8 722.4Z" fill="#ececee" stroke="#ececee" stroke-width="0.5"/><path d="M177.1 769.3L178.4 769.8L180.1 770.0L181.8 769.9L183.4 769.6L212.4 760.6L215.1 760.0L218.2 759.6L221.3 759.6L224.4 759.9L227.1 760.5L229.4 761.4L230.4 762.0L232.7 762.7L235.6 763.1L238.6 763.0L241.3 762.5L347.2 729.6L348.8 728.7L349.2 727.7M148.0 718.8L148.2 720.0L149.6 721.1L150.7 721.6L152.3 722.7L153.1 723.9M117.9 738.5L118.0 739.2L118.8 739.8L177.1 769.3M177.1 769.3L177.1 751.9M183.4 769.6L183.4 752.2M349.2 727.7L349.2 710.3M148.0 718.8L148.0 701.4M153.1 723.9L153.1 706.5M117.9 738.5L117.9 721.1" fill="none" stroke="#5a5a5e" stroke-width="0.65" stroke-linejoin="round"/><path d="M177.1 751.9L178.4 752.4L180.1 752.6L181.8 752.5L183.4 752.2L212.4 743.2L215.1 742.5L218.2 742.2L221.3 742.2L224.4 742.5L227.1 743.1L229.4 744.0L230.4 744.5L232.7 745.3L235.6 745.7L238.6 745.6L241.3 745.1L347.2 712.2L348.8 711.3L349.2 710.3L348.1 709.3L264.1 666.8L261.9 666.1L259.3 666.0L256.8 666.4L150.9 699.3L148.9 700.2L148.0 701.4L148.2 702.6L149.6 703.6L150.7 704.2L152.3 705.3L153.1 706.5L153.1 707.7L152.4 708.9L150.8 710.0L148.6 710.9L119.5 719.9L118.4 720.4L117.9 721.1L118.0 721.8L118.8 722.4Z" fill="#f6f6f7" stroke="#5a5a5e" stroke-width="0.65" stroke-linejoin="round"/>
<path d="M146.8 747.7L146.9 746.8L147.3 746.3L147.8 746.2L148.4 746.5L149.0 747.2L149.4 748.1L149.5 749.1L149.4 749.9L149.0 750.4L148.4 750.5L147.8 750.2L147.3 749.5L146.9 748.6Z" fill="#e2e2e6" stroke="#5a5a5e" stroke-width="0.45"/>
<ellipse cx="238.1" cy="739.5" rx="5.7" ry="2.3" fill="#e2e2e6" stroke="#5a5a5e" stroke-width="0.65"/>
<ellipse cx="333.1" cy="710.0" rx="5.7" ry="2.3" fill="#e2e2e6" stroke="#5a5a5e" stroke-width="0.65"/>
<ellipse cx="163.6" cy="701.9" rx="5.7" ry="2.3" fill="#e2e2e6" stroke="#5a5a5e" stroke-width="0.65"/>
<ellipse cx="258.7" cy="672.4" rx="5.7" ry="2.3" fill="#e2e2e6" stroke="#5a5a5e" stroke-width="0.65"/>
<ellipse cx="251.7" cy="738.1" rx="3.8" ry="1.5" fill="#e2e2e6" stroke="#5a5a5e" stroke-width="0.45"/>
<path d="M168.3 730.8L171.9 732.3L171.9 715.7L168.3 714.2Z" fill="#e5e5e8" stroke="#e5e5e8" stroke-width="0.5"/><path d="M171.9 732.3L176.8 733.6L176.8 717.0L171.9 715.7Z" fill="#e3e3e6" stroke="#e3e3e6" stroke-width="0.5"/><path d="M176.8 733.6L183.1 734.6L183.1 717.9L176.8 717.0Z" fill="#e1e1e5" stroke="#e1e1e5" stroke-width="0.5"/><path d="M183.1 734.6L190.2 734.8L190.2 718.2L183.1 717.9Z" fill="#dfdfe3" stroke="#dfdfe3" stroke-width="0.5"/><path d="M190.2 734.8L198.2 734.2L198.2 717.6L190.2 718.2Z" fill="#dddde1" stroke="#dddde1" stroke-width="0.5"/><path d="M198.2 734.2L207.9 733.5L207.9 716.8L198.2 717.6Z" fill="#dddde1" stroke="#dddde1" stroke-width="0.5"/><path d="M207.9 733.5L217.5 734.6L217.5 717.9L207.9 716.8Z" fill="#e1e1e4" stroke="#e1e1e4" stroke-width="0.5"/><path d="M217.5 734.6L220.1 735.0L220.1 718.3L217.5 717.9Z" fill="#e1e1e5" stroke="#e1e1e5" stroke-width="0.5"/><path d="M220.1 735.0L225.4 735.7L225.4 719.1L220.1 718.3Z" fill="#e1e1e4" stroke="#e1e1e4" stroke-width="0.5"/><path d="M225.4 735.7L230.8 736.3L230.8 719.6L225.4 719.1Z" fill="#e0e0e4" stroke="#e0e0e4" stroke-width="0.5"/><path d="M230.8 736.1L232.7 735.6L232.7 719.0L230.8 719.5Z" fill="#dadade" stroke="#dadade" stroke-width="0.5"/><path d="M232.7 735.6L234.9 735.2L234.9 718.6L232.7 719.0Z" fill="#dcdce0" stroke="#dcdce0" stroke-width="0.5"/><path d="M234.9 735.2L237.2 735.1L237.2 718.4L234.9 718.6Z" fill="#dddde1" stroke="#dddde1" stroke-width="0.5"/><path d="M237.2 735.1L239.5 735.1L239.5 718.4L237.2 718.4Z" fill="#dfdfe2" stroke="#dfdfe2" stroke-width="0.5"/><path d="M239.5 735.1L241.8 735.3L241.8 718.7L239.5 718.4Z" fill="#e0e0e4" stroke="#e0e0e4" stroke-width="0.5"/><path d="M241.8 735.3L243.9 735.7L243.9 719.0L241.8 718.7Z" fill="#e2e2e5" stroke="#e2e2e5" stroke-width="0.5"/><path d="M243.9 735.7L245.8 736.2L245.8 719.6L243.9 719.0Z" fill="#e3e3e6" stroke="#e3e3e6" stroke-width="0.5"/><path d="M245.8 736.2L247.3 736.9L247.3 720.3L245.8 719.6Z" fill="#e5e5e8" stroke="#e5e5e8" stroke-width="0.5"/><path d="M247.1 737.1L252.8 737.0L252.8 720.4L247.1 720.4Z" fill="#dfdfe2" stroke="#dfdfe2" stroke-width="0.5"/><path d="M252.8 737.0L258.4 736.8L258.4 720.2L252.8 720.4Z" fill="#dedee2" stroke="#dedee2" stroke-width="0.5"/><path d="M258.4 736.8L263.9 736.5L263.9 719.8L258.4 720.2Z" fill="#dedee1" stroke="#dedee1" stroke-width="0.5"/><path d="M263.9 736.5L269.4 735.9L269.4 719.3L263.9 719.8Z" fill="#dddde1" stroke="#dddde1" stroke-width="0.5"/><path d="M269.4 735.9L274.0 734.9L274.0 718.3L269.4 719.3Z" fill="#dbdbdf" stroke="#dbdbdf" stroke-width="0.5"/><path d="M274.0 734.9L278.3 733.6L278.3 717.0L274.0 718.3Z" fill="#d9d9dd" stroke="#d9d9dd" stroke-width="0.5"/><path d="M278.3 733.6L282.6 732.2L282.6 715.6L278.3 717.0Z" fill="#d9d9dd" stroke="#d9d9dd" stroke-width="0.5"/><path d="M282.6 732.2L287.0 730.9L287.0 714.3L282.6 715.6Z" fill="#d9d9dd" stroke="#d9d9dd" stroke-width="0.5"/><path d="M287.0 730.9L291.4 729.5L291.4 712.9L287.0 714.3Z" fill="#d9d9dd" stroke="#d9d9dd" stroke-width="0.5"/><path d="M291.4 729.5L295.8 728.1L295.8 711.5L291.4 712.9Z" fill="#d9d9dd" stroke="#d9d9dd" stroke-width="0.5"/><path d="M295.8 728.1L300.2 726.8L300.2 710.1L295.8 711.5Z" fill="#d9d9dd" stroke="#d9d9dd" stroke-width="0.5"/><path d="M300.2 726.8L304.6 725.4L304.6 708.8L300.2 710.1Z" fill="#d9d9dd" stroke="#d9d9dd" stroke-width="0.5"/><path d="M304.6 725.4L308.9 724.1L308.9 707.4L304.6 708.8Z" fill="#d9d9dd" stroke="#d9d9dd" stroke-width="0.5"/><path d="M308.9 724.1L313.2 722.8L313.2 706.1L308.9 707.4Z" fill="#d9d9dd" stroke="#d9d9dd" stroke-width="0.5"/><path d="M313.2 722.8L316.8 721.2L316.8 704.6L313.2 706.1Z" fill="#d9d9dd" stroke="#d9d9dd" stroke-width="0.5"/><path d="M316.8 721.2L319.4 719.2L319.4 702.6L316.8 704.6Z" fill="#d9d9dd" stroke="#d9d9dd" stroke-width="0.5"/><path d="M319.4 719.2L321.6 717.2L321.6 700.5L319.4 702.6Z" fill="#d9d9dd" stroke="#d9d9dd" stroke-width="0.5"/><path d="M321.6 717.2L323.4 715.1L323.4 698.4L321.6 700.5Z" fill="#d9d9dd" stroke="#d9d9dd" stroke-width="0.5"/><path d="M323.4 715.1L324.9 712.9L324.9 696.3L323.4 698.4Z" fill="#d9d9dd" stroke="#d9d9dd" stroke-width="0.5"/><path d="M321.9 709.5L322.4 708.6L322.4 692.0L321.9 692.9Z" fill="#d9d9dd" stroke="#d9d9dd" stroke-width="0.5"/><path d="M322.4 708.6L323.3 707.8L323.3 691.1L322.4 692.0Z" fill="#d9d9dd" stroke="#d9d9dd" stroke-width="0.5"/><path d="M323.3 707.8L324.7 707.0L324.7 690.4L323.3 691.1Z" fill="#d9d9dd" stroke="#d9d9dd" stroke-width="0.5"/><path d="M324.7 707.0L326.4 706.4L326.4 689.8L324.7 690.4Z" fill="#d9d9dd" stroke="#d9d9dd" stroke-width="0.5"/><path d="M326.4 706.4L326.9 706.5L326.9 689.8L326.4 689.8Z" fill="#e1e1e5" stroke="#e1e1e5" stroke-width="0.5"/><path d="M265.9 675.6L266.0 675.8L266.0 659.2L265.9 659.0Z" fill="#e6e6e9" stroke="#e6e6e9" stroke-width="0.5"/><path d="M249.5 675.0L249.7 674.9L249.7 658.2L249.5 658.4Z" fill="#d9d9dd" stroke="#d9d9dd" stroke-width="0.5"/><path d="M171.9 699.0L172.3 699.0L172.3 682.4L171.9 682.4Z" fill="#dedee1" stroke="#dedee1" stroke-width="0.5"/><path d="M172.3 699.0L173.7 699.7L173.7 683.1L172.3 682.4Z" fill="#e6e6e9" stroke="#e6e6e9" stroke-width="0.5"/><path d="M173.7 699.7L174.5 700.6L174.5 684.0L173.7 683.1Z" fill="#e6e6e9" stroke="#e6e6e9" stroke-width="0.5"/><path d="M174.5 700.6L175.0 701.5L175.0 684.9L174.5 684.0Z" fill="#e6e6e9" stroke="#e6e6e9" stroke-width="0.5"/><path d="M170.0 707.7L170.5 709.9L170.5 693.3L170.0 691.1Z" fill="#e6e6e9" stroke="#e6e6e9" stroke-width="0.5"/><path d="M170.5 709.9L170.9 711.0L170.9 694.4L170.5 693.3Z" fill="#e6e6e9" stroke="#e6e6e9" stroke-width="0.5"/><path d="M170.9 711.0L171.3 715.0L171.3 698.3L170.9 694.4Z" fill="#e6e6e9" stroke="#e6e6e9" stroke-width="0.5"/><path d="M162.7 724.2L163.6 726.9L163.6 710.3L162.7 707.6Z" fill="#e6e6e9" stroke="#e6e6e9" stroke-width="0.5"/><path d="M163.6 726.9L165.5 729.1L165.5 712.5L163.6 710.3Z" fill="#e6e6e9" stroke="#e6e6e9" stroke-width="0.5"/><path d="M165.5 729.1L168.3 730.8L168.3 714.2L165.5 712.5Z" fill="#e6e6e9" stroke="#e6e6e9" stroke-width="0.5"/><path d="M168.3 730.8L171.9 732.3L176.8 733.6L183.1 734.6L190.2 734.8L198.2 734.2L207.9 733.5L217.5 734.6L220.1 735.0L225.4 735.7L230.8 736.3M230.8 736.1L232.7 735.6L234.9 735.2L237.2 735.1L239.5 735.1L241.8 735.3L243.9 735.7L245.8 736.2L247.3 736.9M247.1 737.1L252.8 737.0L258.4 736.8L263.9 736.5L269.4 735.9L274.0 734.9M313.2 722.8L316.8 721.2L319.4 719.2L321.6 717.2L323.4 715.1L324.9 712.9M321.9 709.5L322.4 708.6L323.3 707.8L324.7 707.0L326.4 706.4L326.9 706.5M265.9 675.6L266.0 675.8M249.5 675.0L249.7 674.9M171.9 699.0L172.3 699.0L173.7 699.7L174.5 700.6L175.0 701.5M170.0 707.7L170.5 709.9L170.9 711.0L171.3 715.0M162.7 724.2L163.6 726.9L165.5 729.1L168.3 730.8M230.8 736.3L230.8 719.6M230.8 736.1L230.8 719.5M247.3 736.9L247.3 720.3M247.1 737.1L247.1 720.4M274.0 734.9L274.0 718.3M324.9 712.9L324.9 696.3M321.9 709.5L321.9 692.9M326.4 706.4L326.4 689.8M326.9 706.5L326.9 689.8M265.9 675.6L265.9 659.0M266.0 675.8L266.0 659.2M249.5 675.0L249.5 658.4M249.7 674.9L249.7 658.2M171.9 699.0L171.9 682.4M172.3 699.0L172.3 682.4M175.0 701.5L175.0 684.9M170.0 707.7L170.0 691.1M171.3 715.0L171.3 698.3M162.7 724.2L162.7 707.6" fill="none" stroke="#5a5a5e" stroke-width="0.65" stroke-linejoin="round"/><path d="M168.3 714.2L171.9 715.7L176.8 717.0L183.1 717.9L190.2 718.2L198.2 717.6L207.9 716.8L217.5 717.9L220.1 718.3L225.4 719.1L230.8 719.6L230.8 719.5L232.7 719.0L234.9 718.6L237.2 718.4L239.5 718.4L241.8 718.7L243.9 719.0L245.8 719.6L247.3 720.3L247.1 720.4L252.8 720.4L258.4 720.2L263.9 719.8L269.4 719.3L274.0 718.3L278.3 717.0L282.6 715.6L287.0 714.3L291.4 712.9L295.8 711.5L300.2 710.1L304.6 708.8L308.9 707.4L313.2 706.1L316.8 704.6L319.4 702.6L321.6 700.5L323.4 698.4L324.9 696.3L324.4 696.3L323.1 695.6L322.2 694.7L321.8 693.8L321.9 692.9L322.4 692.0L323.3 691.1L324.7 690.4L326.4 689.8L326.9 689.8L326.8 687.6L326.2 685.4L325.3 683.2L324.0 681.0L321.4 679.2L318.1 677.5L314.7 675.8L311.3 674.0L307.8 672.3L304.4 670.5L300.9 668.8L297.5 667.1L294.1 665.3L290.8 663.7L286.9 662.2L281.9 661.2L276.7 660.3L271.4 659.6L265.9 659.0L266.0 659.2L264.1 659.7L261.9 660.1L259.6 660.2L257.3 660.2L255.0 660.0L252.9 659.6L251.0 659.1L249.5 658.4L249.7 658.2L244.0 658.3L238.4 658.5L232.9 658.8L227.4 659.4L222.8 660.4L218.5 661.7L214.2 663.0L209.8 664.4L205.4 665.8L201.0 667.2L196.6 668.5L192.2 669.9L187.9 671.2L183.6 672.5L180.0 674.1L177.4 676.1L175.2 678.1L173.4 680.2L171.9 682.4L172.3 682.4L173.7 683.1L174.5 684.0L175.0 684.9L174.9 685.8L174.4 686.7L173.5 687.5L172.1 688.3L170.3 688.9L169.9 688.8L170.0 691.1L170.5 693.3L170.9 694.4L171.3 698.3L167.2 701.9L163.8 704.8L162.7 707.6L163.6 710.3L165.5 712.5Z" fill="#f3f3f5" stroke="#5a5a5e" stroke-width="0.65" stroke-linejoin="round"/>
<ellipse cx="190.0" cy="713.5" rx="1.6" ry="0.6" fill="#5a5a5e" stroke="#5a5a5e" stroke-width="0.3"/>
<ellipse cx="175.1" cy="706.0" rx="1.6" ry="0.6" fill="#5a5a5e" stroke="#5a5a5e" stroke-width="0.3"/>
<ellipse cx="248.3" cy="713.7" rx="1.4" ry="0.5" fill="#5a5a5e" stroke="#5a5a5e" stroke-width="0.3"/>
<ellipse cx="248.4" cy="689.3" rx="73.0" ry="28.9" fill="#f3f3f5" stroke="#5a5a5e" stroke-width="0.45"/>
<ellipse cx="248.4" cy="689.3" rx="71.1" ry="28.2" fill="#c4c4c9" stroke="#5a5a5e" stroke-width="0.8450000000000001"/>
<clipPath id="Gcs"><ellipse cx="248.4" cy="689.3" rx="71.1" ry="28.2"/></clipPath>
<g clip-path="url(#Gcs)">
<ellipse cx="248.4" cy="691.7" rx="71.1" ry="28.2" fill="#c4c4c9" stroke="#5a5a5e" stroke-width="0.65"/>
<ellipse cx="248.4" cy="691.7" rx="68.3" ry="27.1" fill="#c4c4c9" stroke="#5a5a5e" stroke-width="0.45"/>
<ellipse cx="248.4" cy="691.2" rx="64.9" ry="25.7" fill="#c4c4c9" stroke="#5a5a5e" stroke-width="0.65"/>
</g>
<path d="M188.7 691.2A59.7 23.7 0 0 0 308.1 691.2L310.3 675.6A61.9 24.5 0 0 1 186.5 675.6Z" fill="url(#Gtb)" stroke="#5a5a5e" stroke-width="0.65"/>
<path d="M186.5 675.6A61.9 24.5 0 0 0 310.3 675.6L310.3 670.2A61.9 24.5 0 0 1 186.5 670.2Z" fill="url(#Gtb)" stroke="#5a5a5e" stroke-width="0.65"/><ellipse cx="248.4" cy="670.2" rx="61.9" ry="24.5" fill="url(#Gtt)" stroke="#5a5a5e" stroke-width="0.65"/>
<ellipse cx="248.4" cy="670.2" rx="60.7" ry="24.1" fill="none" stroke="#5a5a5e" stroke-width="0.45"/>
<ellipse cx="261.4" cy="649.3" rx="2.8" ry="1.1" fill="#e2e2e6" stroke="#5a5a5e" stroke-width="0.45"/>
<ellipse cx="209.4" cy="655.3" rx="2.8" ry="1.1" fill="#e2e2e6" stroke="#5a5a5e" stroke-width="0.45"/>
<ellipse cx="196.4" cy="676.1" rx="2.8" ry="1.1" fill="#e2e2e6" stroke="#5a5a5e" stroke-width="0.45"/>
<ellipse cx="235.4" cy="691.0" rx="2.8" ry="1.1" fill="#e2e2e6" stroke="#5a5a5e" stroke-width="0.45"/>
<ellipse cx="287.4" cy="685.1" rx="2.8" ry="1.1" fill="#e2e2e6" stroke="#5a5a5e" stroke-width="0.45"/>
<ellipse cx="300.4" cy="664.2" rx="2.8" ry="1.1" fill="#e2e2e6" stroke="#5a5a5e" stroke-width="0.45"/>
<ellipse cx="248.4" cy="670.2" rx="48.6" ry="19.3" fill="url(#Gbo)" stroke="#5a5a5e" stroke-width="0.65"/>
<clipPath id="Gcb"><ellipse cx="248.4" cy="670.2" rx="48.6" ry="19.3"/></clipPath>
<g clip-path="url(#Gcb)">
<ellipse cx="248.4" cy="678.7" rx="43.5" ry="17.2" fill="#f6f6f8" stroke="#5a5a5e" stroke-width="0.45"/>
<path d="M213.4 678.7A35.0 13.9 0 0 0 283.4 678.7L283.4 675.7A35.0 13.9 0 0 1 213.4 675.7Z" fill="url(#Gtb)" stroke="#5a5a5e" stroke-width="0.65"/><ellipse cx="248.4" cy="675.7" rx="35.0" ry="13.9" fill="#fafafb" stroke="#5a5a5e" stroke-width="0.65"/>
<ellipse cx="248.4" cy="675.7" rx="29.3" ry="11.6" fill="url(#Gb2)" stroke="#5a5a5e" stroke-width="0.65"/>
</g></g>
<!-- sec_iso_line -->
<g><defs></defs><path d="M257.8 813.0L258.9 812.5L258.9 778.6L257.8 779.1Z" fill="#ffffff" stroke="#ffffff" stroke-width="0.5"/><path d="M258.9 812.5L259.5 811.8L259.5 778.0L258.9 778.6Z" fill="#ffffff" stroke="#ffffff" stroke-width="0.5"/><path d="M117.9 805.0L118.0 805.7L118.0 771.8L117.9 771.1Z" fill="#ffffff" stroke="#ffffff" stroke-width="0.5"/><path d="M118.0 805.7L118.8 806.3L118.8 772.5L118.0 771.8Z" fill="#ffffff" stroke="#ffffff" stroke-width="0.5"/><path d="M118.8 806.3L177.1 835.8L177.1 801.9L118.8 772.5Z" fill="#ffffff" stroke="#ffffff" stroke-width="0.5"/><path d="M177.1 835.8L178.4 836.3L178.4 802.4L177.1 801.9Z" fill="#ffffff" stroke="#ffffff" stroke-width="0.5"/><path d="M178.4 836.3L180.1 836.5L180.1 802.6L178.4 802.4Z" fill="#ffffff" stroke="#ffffff" stroke-width="0.5"/><path d="M180.1 836.5L181.8 836.4L181.8 802.6L180.1 802.6Z" fill="#ffffff" stroke="#ffffff" stroke-width="0.5"/><path d="M181.8 836.4L183.4 836.1L183.4 802.2L181.8 802.6Z" fill="#ffffff" stroke="#ffffff" stroke-width="0.5"/><path d="M183.4 836.1L257.8 813.0L257.8 779.1L183.4 802.2Z" fill="#ffffff" stroke="#ffffff" stroke-width="0.5"/><path d="M257.8 813.0L258.9 812.5L259.5 811.8M117.9 805.0L118.0 805.7L118.8 806.3L177.1 835.8L178.4 836.3L180.1 836.5L181.8 836.4L183.4 836.1L257.8 813.0M259.5 811.8L259.5 778.0M117.9 805.0L117.9 771.1M177.1 835.8L177.1 801.9M183.4 836.1L183.4 802.2" fill="none" stroke="#3a3a3a" stroke-width="0.75" stroke-linejoin="round"/><path d="M257.8 779.1L258.9 778.6L259.5 778.0L259.3 777.3L258.5 776.6L200.2 747.2L198.9 746.7L197.3 746.5L195.5 746.5L193.9 746.9L119.5 770.0L118.4 770.5L117.9 771.1L118.0 771.8L118.8 772.5L177.1 801.9L178.4 802.4L180.1 802.6L181.8 802.6L183.4 802.2Z" fill="#ffffff" stroke="#3a3a3a" stroke-width="0.75" stroke-linejoin="round"/>
<path d="M257.8 778.5L258.9 778.0L258.9 748.5L257.8 749.1Z" fill="#ffffff" stroke="#ffffff" stroke-width="0.5"/><path d="M258.9 778.0L259.5 777.3L259.5 747.9L258.9 748.5Z" fill="#ffffff" stroke="#ffffff" stroke-width="0.5"/><path d="M117.9 770.5L118.0 771.2L118.0 741.7L117.9 741.1Z" fill="#ffffff" stroke="#ffffff" stroke-width="0.5"/><path d="M118.0 771.2L118.8 771.8L118.8 742.4L118.0 741.7Z" fill="#ffffff" stroke="#ffffff" stroke-width="0.5"/><path d="M118.8 771.8L177.1 801.3L177.1 771.9L118.8 742.4Z" fill="#ffffff" stroke="#ffffff" stroke-width="0.5"/><path d="M177.1 801.3L178.4 801.8L178.4 772.3L177.1 771.9Z" fill="#ffffff" stroke="#ffffff" stroke-width="0.5"/><path d="M178.4 801.8L180.1 802.0L180.1 772.5L178.4 772.3Z" fill="#ffffff" stroke="#ffffff" stroke-width="0.5"/><path d="M180.1 802.0L181.8 801.9L181.8 772.5L180.1 772.5Z" fill="#ffffff" stroke="#ffffff" stroke-width="0.5"/><path d="M181.8 801.9L183.4 801.6L183.4 772.2L181.8 772.5Z" fill="#ffffff" stroke="#ffffff" stroke-width="0.5"/><path d="M183.4 801.6L257.8 778.5L257.8 749.1L183.4 772.2Z" fill="#ffffff" stroke="#ffffff" stroke-width="0.5"/><path d="M257.8 778.5L258.9 778.0L259.5 777.3M117.9 770.5L118.0 771.2L118.8 771.8L177.1 801.3L178.4 801.8L180.1 802.0L181.8 801.9L183.4 801.6L257.8 778.5M259.5 777.3L259.5 747.9M117.9 770.5L117.9 741.1M177.1 801.3L177.1 771.9M183.4 801.6L183.4 772.2" fill="none" stroke="#3a3a3a" stroke-width="0.75" stroke-linejoin="round"/><path d="M257.8 749.1L258.9 748.5L259.5 747.9L259.3 747.2L258.5 746.6L200.2 717.1L198.9 716.6L197.3 716.4L195.5 716.5L193.9 716.8L119.5 739.9L118.4 740.4L117.9 741.1L118.0 741.7L118.8 742.4L177.1 771.9L178.4 772.3L180.1 772.5L181.8 772.5L183.4 772.2Z" fill="#ffffff" stroke="#3a3a3a" stroke-width="0.75" stroke-linejoin="round"/>
<path d="M257.8 748.6L258.9 748.1L258.9 746.0L257.8 746.5Z" fill="#ffffff" stroke="#ffffff" stroke-width="0.5"/><path d="M258.9 748.1L259.5 747.4L259.5 745.3L258.9 746.0Z" fill="#ffffff" stroke="#ffffff" stroke-width="0.5"/><path d="M117.9 740.6L118.0 741.3L118.0 739.2L117.9 738.5Z" fill="#ffffff" stroke="#ffffff" stroke-width="0.5"/><path d="M118.0 741.3L118.8 741.9L118.8 739.8L118.0 739.2Z" fill="#ffffff" stroke="#ffffff" stroke-width="0.5"/><path d="M118.8 741.9L177.1 771.4L177.1 769.3L118.8 739.8Z" fill="#ffffff" stroke="#ffffff" stroke-width="0.5"/><path d="M177.1 771.4L178.4 771.8L178.4 769.8L177.1 769.3Z" fill="#ffffff" stroke="#ffffff" stroke-width="0.5"/><path d="M178.4 771.8L180.1 772.0L180.1 770.0L178.4 769.8Z" fill="#ffffff" stroke="#ffffff" stroke-width="0.5"/><path d="M180.1 772.0L181.8 772.0L181.8 769.9L180.1 770.0Z" fill="#ffffff" stroke="#ffffff" stroke-width="0.5"/><path d="M181.8 772.0L183.4 771.7L183.4 769.6L181.8 769.9Z" fill="#ffffff" stroke="#ffffff" stroke-width="0.5"/><path d="M183.4 771.7L257.8 748.6L257.8 746.5L183.4 769.6Z" fill="#ffffff" stroke="#ffffff" stroke-width="0.5"/><path d="M257.8 748.6L258.9 748.1L259.5 747.4M117.9 740.6L118.0 741.3L118.8 741.9L177.1 771.4L178.4 771.8L180.1 772.0L181.8 772.0L183.4 771.7L257.8 748.6M259.5 747.4L259.5 745.3M117.9 740.6L117.9 738.5M177.1 771.4L177.1 769.3M183.4 771.7L183.4 769.6" fill="none" stroke="#3a3a3a" stroke-width="0.75" stroke-linejoin="round"/>
<path d="M125.6 791.7L125.7 790.2L126.0 788.9L126.6 787.9L127.3 787.2L128.2 786.8L129.2 786.8L130.3 787.1L131.3 787.8L132.3 788.8L133.2 790.1L133.9 791.6L134.5 793.2L134.8 794.9L134.9 796.5L134.8 798.0L134.5 799.3L133.9 800.3L133.2 801.0L132.3 801.4L131.3 801.4L130.3 801.1L129.2 800.4L128.2 799.3L127.3 798.1L126.6 796.6L126.0 795.0L125.7 793.3Z" fill="#fff" stroke="#3a3a3a" stroke-width="0.75"/>
<path d="M128.9 793.3L128.7 791.7L128.8 790.3L129.2 789.1L129.8 788.2L130.6 787.7L131.5 787.6L132.5 787.9L133.5 788.6L134.4 789.7L135.2 791.0L135.7 792.5L136.1 794.1L136.2 795.6L136.0 797.0L135.5 798.1" fill="none" stroke="#3a3a3a" stroke-width="0.5"/>
<g transform="translate(207.0 813.8) skewY(-17.2) scale(0.9 1)">
<path d="M-0.69 -6.26L-0.91 -8.25L0.91 -8.25L0.69 -6.26L2.53 -5.77L3.34 -7.60L4.91 -6.69L3.73 -5.08L5.08 -3.73L6.69 -4.91L7.60 -3.34L5.77 -2.53L6.26 -0.69L8.25 -0.91L8.25 0.91L6.26 0.69L5.77 2.53L7.60 3.34L6.69 4.91L5.08 3.73L3.73 5.08L4.91 6.69L3.34 7.60L2.53 5.77L0.69 6.26L0.91 8.25L-0.91 8.25L-0.69 6.26L-2.53 5.77L-3.34 7.60L-4.91 6.69L-3.73 5.08L-5.08 3.73L-6.69 4.91L-7.60 3.34L-5.77 2.53L-6.26 0.69L-8.25 0.91L-8.25 -0.91L-6.26 -0.69L-5.77 -2.53L-7.60 -3.34L-6.69 -4.91L-5.08 -3.73L-3.73 -5.08L-4.91 -6.69L-3.34 -7.60L-2.53 -5.77Z" fill="none" stroke="#7a7a7a" stroke-width="1.1" stroke-linejoin="round"/>
<circle r="4.4" fill="none" stroke="#7a7a7a" stroke-width="0.9"/><path d="M-2.8 1.2h1.6l1.2-2.4l0.8 2.4l1-2.4h2" fill="none" stroke="#7a7a7a" stroke-width="0.7"/>
<text class="tc" x="12.5" y="0.6" font-size="7.9" font-weight="bold" fill="#7a7a7a">銘</text><text class="tc" x="21.7" y="0.6" font-size="7.9" font-weight="bold" fill="#7a7a7a">機</text>
<text x="13" y="7" font-size="4.2" font-weight="bold" font-style="italic" fill="#7a7a7a" textLength="15" lengthAdjust="spacingAndGlyphs">MING JI</text>
</g>
<path d="M177.1 769.3L178.4 769.8L178.4 752.4L177.1 751.9Z" fill="#ffffff" stroke="#ffffff" stroke-width="0.5"/><path d="M178.4 769.8L180.1 770.0L180.1 752.6L178.4 752.4Z" fill="#ffffff" stroke="#ffffff" stroke-width="0.5"/><path d="M180.1 770.0L181.8 769.9L181.8 752.5L180.1 752.6Z" fill="#ffffff" stroke="#ffffff" stroke-width="0.5"/><path d="M181.8 769.9L183.4 769.6L183.4 752.2L181.8 752.5Z" fill="#ffffff" stroke="#ffffff" stroke-width="0.5"/><path d="M183.4 769.6L212.4 760.6L212.4 743.2L183.4 752.2Z" fill="#ffffff" stroke="#ffffff" stroke-width="0.5"/><path d="M212.4 760.6L215.1 760.0L215.1 742.5L212.4 743.2Z" fill="#ffffff" stroke="#ffffff" stroke-width="0.5"/><path d="M215.1 760.0L218.2 759.6L218.2 742.2L215.1 742.5Z" fill="#ffffff" stroke="#ffffff" stroke-width="0.5"/><path d="M218.2 759.6L221.3 759.6L221.3 742.2L218.2 742.2Z" fill="#ffffff" stroke="#ffffff" stroke-width="0.5"/><path d="M221.3 759.6L224.4 759.9L224.4 742.5L221.3 742.2Z" fill="#ffffff" stroke="#ffffff" stroke-width="0.5"/><path d="M224.4 759.9L227.1 760.5L227.1 743.1L224.4 742.5Z" fill="#ffffff" stroke="#ffffff" stroke-width="0.5"/><path d="M227.1 760.5L229.4 761.4L229.4 744.0L227.1 743.1Z" fill="#ffffff" stroke="#ffffff" stroke-width="0.5"/><path d="M229.4 761.4L230.4 762.0L230.4 744.5L229.4 744.0Z" fill="#ffffff" stroke="#ffffff" stroke-width="0.5"/><path d="M230.4 762.0L232.7 762.7L232.7 745.3L230.4 744.5Z" fill="#ffffff" stroke="#ffffff" stroke-width="0.5"/><path d="M232.7 762.7L235.6 763.1L235.6 745.7L232.7 745.3Z" fill="#ffffff" stroke="#ffffff" stroke-width="0.5"/><path d="M235.6 763.1L238.6 763.0L238.6 745.6L235.6 745.7Z" fill="#ffffff" stroke="#ffffff" stroke-width="0.5"/><path d="M238.6 763.0L241.3 762.5L241.3 745.1L238.6 745.6Z" fill="#ffffff" stroke="#ffffff" stroke-width="0.5"/><path d="M241.3 762.5L347.2 729.6L347.2 712.2L241.3 745.1Z" fill="#ffffff" stroke="#ffffff" stroke-width="0.5"/><path d="M347.2 729.6L348.8 728.7L348.8 711.3L347.2 712.2Z" fill="#ffffff" stroke="#ffffff" stroke-width="0.5"/><path d="M348.8 728.7L349.2 727.7L349.2 710.3L348.8 711.3Z" fill="#ffffff" stroke="#ffffff" stroke-width="0.5"/><path d="M148.0 718.8L148.2 720.0L148.2 702.6L148.0 701.4Z" fill="#ffffff" stroke="#ffffff" stroke-width="0.5"/><path d="M148.2 720.0L149.6 721.1L149.6 703.6L148.2 702.6Z" fill="#ffffff" stroke="#ffffff" stroke-width="0.5"/><path d="M149.6 721.1L150.7 721.6L150.7 704.2L149.6 703.6Z" fill="#ffffff" stroke="#ffffff" stroke-width="0.5"/><path d="M150.7 721.6L152.3 722.7L152.3 705.3L150.7 704.2Z" fill="#ffffff" stroke="#ffffff" stroke-width="0.5"/><path d="M152.3 722.7L153.1 723.9L153.1 706.5L152.3 705.3Z" fill="#ffffff" stroke="#ffffff" stroke-width="0.5"/><path d="M117.9 738.5L118.0 739.2L118.0 721.8L117.9 721.1Z" fill="#ffffff" stroke="#ffffff" stroke-width="0.5"/><path d="M118.0 739.2L118.8 739.8L118.8 722.4L118.0 721.8Z" fill="#ffffff" stroke="#ffffff" stroke-width="0.5"/><path d="M118.8 739.8L177.1 769.3L177.1 751.9L118.8 722.4Z" fill="#ffffff" stroke="#ffffff" stroke-width="0.5"/><path d="M177.1 769.3L178.4 769.8L180.1 770.0L181.8 769.9L183.4 769.6L212.4 760.6L215.1 760.0L218.2 759.6L221.3 759.6L224.4 759.9L227.1 760.5L229.4 761.4L230.4 762.0L232.7 762.7L235.6 763.1L238.6 763.0L241.3 762.5L347.2 729.6L348.8 728.7L349.2 727.7M148.0 718.8L148.2 720.0L149.6 721.1L150.7 721.6L152.3 722.7L153.1 723.9M117.9 738.5L118.0 739.2L118.8 739.8L177.1 769.3M177.1 769.3L177.1 751.9M183.4 769.6L183.4 752.2M349.2 727.7L349.2 710.3M148.0 718.8L148.0 701.4M153.1 723.9L153.1 706.5M117.9 738.5L117.9 721.1" fill="none" stroke="#3a3a3a" stroke-width="0.75" stroke-linejoin="round"/><path d="M177.1 751.9L178.4 752.4L180.1 752.6L181.8 752.5L183.4 752.2L212.4 743.2L215.1 742.5L218.2 742.2L221.3 742.2L224.4 742.5L227.1 743.1L229.4 744.0L230.4 744.5L232.7 745.3L235.6 745.7L238.6 745.6L241.3 745.1L347.2 712.2L348.8 711.3L349.2 710.3L348.1 709.3L264.1 666.8L261.9 666.1L259.3 666.0L256.8 666.4L150.9 699.3L148.9 700.2L148.0 701.4L148.2 702.6L149.6 703.6L150.7 704.2L152.3 705.3L153.1 706.5L153.1 707.7L152.4 708.9L150.8 710.0L148.6 710.9L119.5 719.9L118.4 720.4L117.9 721.1L118.0 721.8L118.8 722.4Z" fill="#ffffff" stroke="#3a3a3a" stroke-width="0.75" stroke-linejoin="round"/>
<path d="M146.8 747.7L146.9 746.8L147.3 746.3L147.8 746.2L148.4 746.5L149.0 747.2L149.4 748.1L149.5 749.1L149.4 749.9L149.0 750.4L148.4 750.5L147.8 750.2L147.3 749.5L146.9 748.6Z" fill="#fff" stroke="#3a3a3a" stroke-width="0.5"/>
<ellipse cx="238.1" cy="739.5" rx="5.7" ry="2.3" fill="#fff" stroke="#3a3a3a" stroke-width="0.75"/>
<ellipse cx="333.1" cy="710.0" rx="5.7" ry="2.3" fill="#fff" stroke="#3a3a3a" stroke-width="0.75"/>
<ellipse cx="163.6" cy="701.9" rx="5.7" ry="2.3" fill="#fff" stroke="#3a3a3a" stroke-width="0.75"/>
<ellipse cx="258.7" cy="672.4" rx="5.7" ry="2.3" fill="#fff" stroke="#3a3a3a" stroke-width="0.75"/>
<ellipse cx="251.7" cy="738.1" rx="3.8" ry="1.5" fill="#fff" stroke="#3a3a3a" stroke-width="0.5"/>
<path d="M168.3 730.8L171.9 732.3L171.9 715.7L168.3 714.2Z" fill="#ffffff" stroke="#ffffff" stroke-width="0.5"/><path d="M171.9 732.3L176.8 733.6L176.8 717.0L171.9 715.7Z" fill="#ffffff" stroke="#ffffff" stroke-width="0.5"/><path d="M176.8 733.6L183.1 734.6L183.1 717.9L176.8 717.0Z" fill="#ffffff" stroke="#ffffff" stroke-width="0.5"/><path d="M183.1 734.6L190.2 734.8L190.2 718.2L183.1 717.9Z" fill="#ffffff" stroke="#ffffff" stroke-width="0.5"/><path d="M190.2 734.8L198.2 734.2L198.2 717.6L190.2 718.2Z" fill="#ffffff" stroke="#ffffff" stroke-width="0.5"/><path d="M198.2 734.2L207.9 733.5L207.9 716.8L198.2 717.6Z" fill="#ffffff" stroke="#ffffff" stroke-width="0.5"/><path d="M207.9 733.5L217.5 734.6L217.5 717.9L207.9 716.8Z" fill="#ffffff" stroke="#ffffff" stroke-width="0.5"/><path d="M217.5 734.6L220.1 735.0L220.1 718.3L217.5 717.9Z" fill="#ffffff" stroke="#ffffff" stroke-width="0.5"/><path d="M220.1 735.0L225.4 735.7L225.4 719.1L220.1 718.3Z" fill="#ffffff" stroke="#ffffff" stroke-width="0.5"/><path d="M225.4 735.7L230.8 736.3L230.8 719.6L225.4 719.1Z" fill="#ffffff" stroke="#ffffff" stroke-width="0.5"/><path d="M230.8 736.1L232.7 735.6L232.7 719.0L230.8 719.5Z" fill="#ffffff" stroke="#ffffff" stroke-width="0.5"/><path d="M232.7 735.6L234.9 735.2L234.9 718.6L232.7 719.0Z" fill="#ffffff" stroke="#ffffff" stroke-width="0.5"/><path d="M234.9 735.2L237.2 735.1L237.2 718.4L234.9 718.6Z" fill="#ffffff" stroke="#ffffff" stroke-width="0.5"/><path d="M237.2 735.1L239.5 735.1L239.5 718.4L237.2 718.4Z" fill="#ffffff" stroke="#ffffff" stroke-width="0.5"/><path d="M239.5 735.1L241.8 735.3L241.8 718.7L239.5 718.4Z" fill="#ffffff" stroke="#ffffff" stroke-width="0.5"/><path d="M241.8 735.3L243.9 735.7L243.9 719.0L241.8 718.7Z" fill="#ffffff" stroke="#ffffff" stroke-width="0.5"/><path d="M243.9 735.7L245.8 736.2L245.8 719.6L243.9 719.0Z" fill="#ffffff" stroke="#ffffff" stroke-width="0.5"/><path d="M245.8 736.2L247.3 736.9L247.3 720.3L245.8 719.6Z" fill="#ffffff" stroke="#ffffff" stroke-width="0.5"/><path d="M247.1 737.1L252.8 737.0L252.8 720.4L247.1 720.4Z" fill="#ffffff" stroke="#ffffff" stroke-width="0.5"/><path d="M252.8 737.0L258.4 736.8L258.4 720.2L252.8 720.4Z" fill="#ffffff" stroke="#ffffff" stroke-width="0.5"/><path d="M258.4 736.8L263.9 736.5L263.9 719.8L258.4 720.2Z" fill="#ffffff" stroke="#ffffff" stroke-width="0.5"/><path d="M263.9 736.5L269.4 735.9L269.4 719.3L263.9 719.8Z" fill="#ffffff" stroke="#ffffff" stroke-width="0.5"/><path d="M269.4 735.9L274.0 734.9L274.0 718.3L269.4 719.3Z" fill="#ffffff" stroke="#ffffff" stroke-width="0.5"/><path d="M274.0 734.9L278.3 733.6L278.3 717.0L274.0 718.3Z" fill="#ffffff" stroke="#ffffff" stroke-width="0.5"/><path d="M278.3 733.6L282.6 732.2L282.6 715.6L278.3 717.0Z" fill="#ffffff" stroke="#ffffff" stroke-width="0.5"/><path d="M282.6 732.2L287.0 730.9L287.0 714.3L282.6 715.6Z" fill="#ffffff" stroke="#ffffff" stroke-width="0.5"/><path d="M287.0 730.9L291.4 729.5L291.4 712.9L287.0 714.3Z" fill="#ffffff" stroke="#ffffff" stroke-width="0.5"/><path d="M291.4 729.5L295.8 728.1L295.8 711.5L291.4 712.9Z" fill="#ffffff" stroke="#ffffff" stroke-width="0.5"/><path d="M295.8 728.1L300.2 726.8L300.2 710.1L295.8 711.5Z" fill="#ffffff" stroke="#ffffff" stroke-width="0.5"/><path d="M300.2 726.8L304.6 725.4L304.6 708.8L300.2 710.1Z" fill="#ffffff" stroke="#ffffff" stroke-width="0.5"/><path d="M304.6 725.4L308.9 724.1L308.9 707.4L304.6 708.8Z" fill="#ffffff" stroke="#ffffff" stroke-width="0.5"/><path d="M308.9 724.1L313.2 722.8L313.2 706.1L308.9 707.4Z" fill="#ffffff" stroke="#ffffff" stroke-width="0.5"/><path d="M313.2 722.8L316.8 721.2L316.8 704.6L313.2 706.1Z" fill="#ffffff" stroke="#ffffff" stroke-width="0.5"/><path d="M316.8 721.2L319.4 719.2L319.4 702.6L316.8 704.6Z" fill="#ffffff" stroke="#ffffff" stroke-width="0.5"/><path d="M319.4 719.2L321.6 717.2L321.6 700.5L319.4 702.6Z" fill="#ffffff" stroke="#ffffff" stroke-width="0.5"/><path d="M321.6 717.2L323.4 715.1L323.4 698.4L321.6 700.5Z" fill="#ffffff" stroke="#ffffff" stroke-width="0.5"/><path d="M323.4 715.1L324.9 712.9L324.9 696.3L323.4 698.4Z" fill="#ffffff" stroke="#ffffff" stroke-width="0.5"/><path d="M321.9 709.5L322.4 708.6L322.4 692.0L321.9 692.9Z" fill="#ffffff" stroke="#ffffff" stroke-width="0.5"/><path d="M322.4 708.6L323.3 707.8L323.3 691.1L322.4 692.0Z" fill="#ffffff" stroke="#ffffff" stroke-width="0.5"/><path d="M323.3 707.8L324.7 707.0L324.7 690.4L323.3 691.1Z" fill="#ffffff" stroke="#ffffff" stroke-width="0.5"/><path d="M324.7 707.0L326.4 706.4L326.4 689.8L324.7 690.4Z" fill="#ffffff" stroke="#ffffff" stroke-width="0.5"/><path d="M326.4 706.4L326.9 706.5L326.9 689.8L326.4 689.8Z" fill="#ffffff" stroke="#ffffff" stroke-width="0.5"/><path d="M265.9 675.6L266.0 675.8L266.0 659.2L265.9 659.0Z" fill="#ffffff" stroke="#ffffff" stroke-width="0.5"/><path d="M249.5 675.0L249.7 674.9L249.7 658.2L249.5 658.4Z" fill="#ffffff" stroke="#ffffff" stroke-width="0.5"/><path d="M171.9 699.0L172.3 699.0L172.3 682.4L171.9 682.4Z" fill="#ffffff" stroke="#ffffff" stroke-width="0.5"/><path d="M172.3 699.0L173.7 699.7L173.7 683.1L172.3 682.4Z" fill="#ffffff" stroke="#ffffff" stroke-width="0.5"/><path d="M173.7 699.7L174.5 700.6L174.5 684.0L173.7 683.1Z" fill="#ffffff" stroke="#ffffff" stroke-width="0.5"/><path d="M174.5 700.6L175.0 701.5L175.0 684.9L174.5 684.0Z" fill="#ffffff" stroke="#ffffff" stroke-width="0.5"/><path d="M170.0 707.7L170.5 709.9L170.5 693.3L170.0 691.1Z" fill="#ffffff" stroke="#ffffff" stroke-width="0.5"/><path d="M170.5 709.9L170.9 711.0L170.9 694.4L170.5 693.3Z" fill="#ffffff" stroke="#ffffff" stroke-width="0.5"/><path d="M170.9 711.0L171.3 715.0L171.3 698.3L170.9 694.4Z" fill="#ffffff" stroke="#ffffff" stroke-width="0.5"/><path d="M162.7 724.2L163.6 726.9L163.6 710.3L162.7 707.6Z" fill="#ffffff" stroke="#ffffff" stroke-width="0.5"/><path d="M163.6 726.9L165.5 729.1L165.5 712.5L163.6 710.3Z" fill="#ffffff" stroke="#ffffff" stroke-width="0.5"/><path d="M165.5 729.1L168.3 730.8L168.3 714.2L165.5 712.5Z" fill="#ffffff" stroke="#ffffff" stroke-width="0.5"/><path d="M168.3 730.8L171.9 732.3L176.8 733.6L183.1 734.6L190.2 734.8L198.2 734.2L207.9 733.5L217.5 734.6L220.1 735.0L225.4 735.7L230.8 736.3M230.8 736.1L232.7 735.6L234.9 735.2L237.2 735.1L239.5 735.1L241.8 735.3L243.9 735.7L245.8 736.2L247.3 736.9M247.1 737.1L252.8 737.0L258.4 736.8L263.9 736.5L269.4 735.9L274.0 734.9M313.2 722.8L316.8 721.2L319.4 719.2L321.6 717.2L323.4 715.1L324.9 712.9M321.9 709.5L322.4 708.6L323.3 707.8L324.7 707.0L326.4 706.4L326.9 706.5M265.9 675.6L266.0 675.8M249.5 675.0L249.7 674.9M171.9 699.0L172.3 699.0L173.7 699.7L174.5 700.6L175.0 701.5M170.0 707.7L170.5 709.9L170.9 711.0L171.3 715.0M162.7 724.2L163.6 726.9L165.5 729.1L168.3 730.8M230.8 736.3L230.8 719.6M230.8 736.1L230.8 719.5M247.3 736.9L247.3 720.3M247.1 737.1L247.1 720.4M274.0 734.9L274.0 718.3M324.9 712.9L324.9 696.3M321.9 709.5L321.9 692.9M326.4 706.4L326.4 689.8M326.9 706.5L326.9 689.8M265.9 675.6L265.9 659.0M266.0 675.8L266.0 659.2M249.5 675.0L249.5 658.4M249.7 674.9L249.7 658.2M171.9 699.0L171.9 682.4M172.3 699.0L172.3 682.4M175.0 701.5L175.0 684.9M170.0 707.7L170.0 691.1M171.3 715.0L171.3 698.3M162.7 724.2L162.7 707.6" fill="none" stroke="#3a3a3a" stroke-width="0.75" stroke-linejoin="round"/><path d="M168.3 714.2L171.9 715.7L176.8 717.0L183.1 717.9L190.2 718.2L198.2 717.6L207.9 716.8L217.5 717.9L220.1 718.3L225.4 719.1L230.8 719.6L230.8 719.5L232.7 719.0L234.9 718.6L237.2 718.4L239.5 718.4L241.8 718.7L243.9 719.0L245.8 719.6L247.3 720.3L247.1 720.4L252.8 720.4L258.4 720.2L263.9 719.8L269.4 719.3L274.0 718.3L278.3 717.0L282.6 715.6L287.0 714.3L291.4 712.9L295.8 711.5L300.2 710.1L304.6 708.8L308.9 707.4L313.2 706.1L316.8 704.6L319.4 702.6L321.6 700.5L323.4 698.4L324.9 696.3L324.4 696.3L323.1 695.6L322.2 694.7L321.8 693.8L321.9 692.9L322.4 692.0L323.3 691.1L324.7 690.4L326.4 689.8L326.9 689.8L326.8 687.6L326.2 685.4L325.3 683.2L324.0 681.0L321.4 679.2L318.1 677.5L314.7 675.8L311.3 674.0L307.8 672.3L304.4 670.5L300.9 668.8L297.5 667.1L294.1 665.3L290.8 663.7L286.9 662.2L281.9 661.2L276.7 660.3L271.4 659.6L265.9 659.0L266.0 659.2L264.1 659.7L261.9 660.1L259.6 660.2L257.3 660.2L255.0 660.0L252.9 659.6L251.0 659.1L249.5 658.4L249.7 658.2L244.0 658.3L238.4 658.5L232.9 658.8L227.4 659.4L222.8 660.4L218.5 661.7L214.2 663.0L209.8 664.4L205.4 665.8L201.0 667.2L196.6 668.5L192.2 669.9L187.9 671.2L183.6 672.5L180.0 674.1L177.4 676.1L175.2 678.1L173.4 680.2L171.9 682.4L172.3 682.4L173.7 683.1L174.5 684.0L175.0 684.9L174.9 685.8L174.4 686.7L173.5 687.5L172.1 688.3L170.3 688.9L169.9 688.8L170.0 691.1L170.5 693.3L170.9 694.4L171.3 698.3L167.2 701.9L163.8 704.8L162.7 707.6L163.6 710.3L165.5 712.5Z" fill="#ffffff" stroke="#3a3a3a" stroke-width="0.75" stroke-linejoin="round"/>
<ellipse cx="190.0" cy="713.5" rx="1.6" ry="0.6" fill="#3a3a3a" stroke="#3a3a3a" stroke-width="0.3"/>
<ellipse cx="175.1" cy="706.0" rx="1.6" ry="0.6" fill="#3a3a3a" stroke="#3a3a3a" stroke-width="0.3"/>
<ellipse cx="248.3" cy="713.7" rx="1.4" ry="0.5" fill="#3a3a3a" stroke="#3a3a3a" stroke-width="0.3"/>
<ellipse cx="248.4" cy="689.3" rx="73.0" ry="28.9" fill="#ffffff" stroke="#3a3a3a" stroke-width="0.5"/>
<ellipse cx="248.4" cy="689.3" rx="71.1" ry="28.2" fill="#fff" stroke="#3a3a3a" stroke-width="0.9750000000000001"/>
<clipPath id="Lcs"><ellipse cx="248.4" cy="689.3" rx="71.1" ry="28.2"/></clipPath>
<g clip-path="url(#Lcs)">
<ellipse cx="248.4" cy="691.7" rx="71.1" ry="28.2" fill="#fff" stroke="#3a3a3a" stroke-width="0.75"/>
<ellipse cx="248.4" cy="691.7" rx="68.3" ry="27.1" fill="#fff" stroke="#3a3a3a" stroke-width="0.5"/>
<ellipse cx="248.4" cy="691.2" rx="64.9" ry="25.7" fill="#fff" stroke="#3a3a3a" stroke-width="0.75"/>
</g>
<path d="M188.7 691.2A59.7 23.7 0 0 0 308.1 691.2L310.3 675.6A61.9 24.5 0 0 1 186.5 675.6Z" fill="#fff" stroke="#3a3a3a" stroke-width="0.75"/>
<path d="M186.5 675.6A61.9 24.5 0 0 0 310.3 675.6L310.3 670.2A61.9 24.5 0 0 1 186.5 670.2Z" fill="#fff" stroke="#3a3a3a" stroke-width="0.75"/><ellipse cx="248.4" cy="670.2" rx="61.9" ry="24.5" fill="#fff" stroke="#3a3a3a" stroke-width="0.75"/>
<ellipse cx="248.4" cy="670.2" rx="60.7" ry="24.1" fill="none" stroke="#3a3a3a" stroke-width="0.5"/>
<ellipse cx="261.4" cy="649.3" rx="2.8" ry="1.1" fill="#fff" stroke="#3a3a3a" stroke-width="0.5"/>
<ellipse cx="209.4" cy="655.3" rx="2.8" ry="1.1" fill="#fff" stroke="#3a3a3a" stroke-width="0.5"/>
<ellipse cx="196.4" cy="676.1" rx="2.8" ry="1.1" fill="#fff" stroke="#3a3a3a" stroke-width="0.5"/>
<ellipse cx="235.4" cy="691.0" rx="2.8" ry="1.1" fill="#fff" stroke="#3a3a3a" stroke-width="0.5"/>
<ellipse cx="287.4" cy="685.1" rx="2.8" ry="1.1" fill="#fff" stroke="#3a3a3a" stroke-width="0.5"/>
<ellipse cx="300.4" cy="664.2" rx="2.8" ry="1.1" fill="#fff" stroke="#3a3a3a" stroke-width="0.5"/>
<ellipse cx="248.4" cy="670.2" rx="48.6" ry="19.3" fill="#fff" stroke="#3a3a3a" stroke-width="0.75"/>
<clipPath id="Lcb"><ellipse cx="248.4" cy="670.2" rx="48.6" ry="19.3"/></clipPath>
<g clip-path="url(#Lcb)">
<ellipse cx="248.4" cy="678.7" rx="43.5" ry="17.2" fill="#fff" stroke="#3a3a3a" stroke-width="0.5"/>
<path d="M213.4 678.7A35.0 13.9 0 0 0 283.4 678.7L283.4 675.7A35.0 13.9 0 0 1 213.4 675.7Z" fill="#fff" stroke="#3a3a3a" stroke-width="0.75"/><ellipse cx="248.4" cy="675.7" rx="35.0" ry="13.9" fill="#fff" stroke="#3a3a3a" stroke-width="0.75"/>
<ellipse cx="248.4" cy="675.7" rx="29.3" ry="11.6" fill="#fff" stroke="#3a3a3a" stroke-width="0.75"/>
</g></g>
<!-- sec_wm -->
<defs><mask id="wmm" maskUnits="userSpaceOnUse" x="-30" y="-30" width="60" height="60"><rect x="-30" y="-30" width="60" height="60" fill="#fff"/><path d="M-13.50 5.00L-8.25 5.00L-3.90 -4.90L-1.80 4.10L2.40 -5.20L11.25 -5.20M3.30 -4.90L1.80 5.00L12.90 5.00L11.40 0.50L6.90 0.50" fill="none" stroke="#000" stroke-width="3.90" stroke-linejoin="round" stroke-linecap="round"/></mask></defs>
<defs><g id="wm"><path d="M-4.1 -31.3L-4.6 -39.9L4.6 -39.9L4.1 -31.3L12.1 -29.2L16.0 -36.9L24.0 -32.3L19.2 -25.1L25.1 -19.2L32.3 -24.0L36.9 -16.0L29.2 -12.1L31.3 -4.1L39.9 -4.6L39.9 4.6L31.3 4.1L29.2 12.1L36.9 16.0L32.3 24.0L25.1 19.2L19.2 25.1L24.0 32.3L16.0 36.9L12.1 29.2L4.1 31.3L4.6 39.9L-4.6 39.9L-4.1 31.3L-12.1 29.2L-16.0 36.9L-24.0 32.3L-19.2 25.1L-25.1 19.2L-32.3 24.0L-36.9 16.0L-29.2 12.1L-31.3 4.1L-39.9 4.6L-39.9 -4.6L-31.3 -4.1L-29.2 -12.1L-36.9 -16.0L-32.3 -24.0L-25.1 -19.2L-19.2 -25.1L-24.0 -32.3L-16.0 -36.9L-12.1 -29.2ZM26.4 0A26.4 26.4 0 1 0 -26.4 0A26.4 26.4 0 1 0 26.4 0Z" fill="#949494" fill-opacity="0.18" fill-rule="evenodd"/><circle r="23.2" fill="#949494" fill-opacity="0.28" mask="url(#wmm)"/><text class="tc" x="68.4" y="-9.6" font-size="28.4" fill="#949494" fill-opacity="0.31">銘</text><text class="tc" x="121.8" y="-9.6" font-size="28.4" fill="#949494" fill-opacity="0.31">機</text><text x="67" y="28.5" font-size="24" fill="#949494" fill-opacity="0.31" textLength="84" lengthAdjust="spacingAndGlyphs">MING JI</text></g></defs>
<use href="#wm" transform="translate(224.9 342.2) rotate(-28)"/>
<use href="#wm" transform="translate(590.6 340.9) rotate(-28)"/>
<use href="#wm" transform="translate(226.0 659.0) rotate(-28)"/>
<use href="#wm" transform="translate(591.6 657.8) rotate(-28)"/>
<use href="#wm" transform="translate(235.5 1018.0) rotate(-28)"/>
<use href="#wm" transform="translate(600.5 1016.5) rotate(-28)"/>
<!-- sec_draw1 -->
<path d="M132.0 399.9H273.5Q281.2 399.9 281.5 407.9V410.7Q282.0 422.7 294.5 422.7H336.8L339.0 424.9V529.9L336.8 532.1H294.5Q282.0 532.1 281.5 544.1V546.9Q281.2 554.9 273.5 554.9H132.0Q126.5 554.9 126.5 549.4V405.4Q126.5 399.9 132.0 399.9Z" fill="none" stroke="#262626" stroke-width="1.13" stroke-linejoin="round"/>
<path d="M173.8 400.1A83.0 83.0 0 0 0 151.8 412.9A12 12 0 0 1 139.5 425.2A83.0 83.0 0 0 0 126.7 447.2" fill="none" stroke="#262626" stroke-width="1.02" stroke-linejoin="round"/>
<path d="M173.8 554.7A83.0 83.0 0 0 1 151.8 541.9A12 12 0 0 0 139.5 529.6A83.0 83.0 0 0 1 126.7 507.6" fill="none" stroke="#262626" stroke-width="1.02" stroke-linejoin="round"/>
<path d="M234.2 400.1A83.0 83.0 0 0 1 256.2 412.9A12 12 0 0 0 268.5 425.2A83.0 83.0 0 0 1 273.6 432.2L276.7 437.5Q281.4 449.1 292.2 450.8Q303.5 455.7 307.8 464.0Q311.7 470.4 311.7 477.4" fill="none" stroke="#262626" stroke-width="1.02" stroke-linejoin="round"/>
<path d="M234.2 554.7A83.0 83.0 0 0 0 256.2 541.9A12 12 0 0 1 268.5 529.6A83.0 83.0 0 0 0 273.6 522.6L276.7 517.3Q281.4 505.7 292.2 504.0Q303.5 499.1 307.8 490.8Q311.7 484.4 311.7 477.4" fill="none" stroke="#262626" stroke-width="1.02" stroke-linejoin="round"/>
<circle cx="204.0" cy="477.4" r="74.5" fill="none" stroke="#262626" stroke-width="1.13"/>
<circle cx="204.0" cy="477.4" r="67.2" fill="none" stroke="#262626" stroke-width="1.36"/>
<circle cx="204.0" cy="477.4" r="65.6" fill="none" stroke="#262626" stroke-width="1.02"/>
<circle cx="204.0" cy="477.4" r="62.6" fill="none" stroke="#262626" stroke-width="1.02"/>
<circle cx="204.0" cy="477.4" r="56.9" fill="none" stroke="#262626" stroke-width="0.56" stroke-dasharray="9 2.2 2 2.2"/>
<circle cx="204.0" cy="477.4" r="46.5" fill="none" stroke="#262626" stroke-width="1.13"/>
<circle cx="204.0" cy="477.4" r="35.6" fill="none" stroke="#262626" stroke-width="1.41"/>
<circle cx="204.0" cy="477.4" r="30.0" fill="none" stroke="#262626" stroke-width="1.36"/>
<path d="M107.5 477.4L347.5 477.4" fill="none" stroke="#262626" stroke-width="0.56" stroke-dasharray="14 2.5 3 2.5" stroke-linejoin="round"/>
<path d="M204.0 385.9L204.0 556.9" fill="none" stroke="#262626" stroke-width="0.56" stroke-dasharray="14 2.5 3 2.5" stroke-linejoin="round"/>
<circle cx="140.2" cy="413.6" r="6.0" fill="none" stroke="#262626" stroke-width="1.02"/><path d="M135.4 413.6H145.0M140.2 408.8V418.4" fill="none" stroke="#262626" stroke-width="0.51" stroke-linejoin="round"/>
<circle cx="140.2" cy="541.2" r="6.0" fill="none" stroke="#262626" stroke-width="1.02"/><path d="M135.4 541.2H145.0M140.2 536.4V546.0" fill="none" stroke="#262626" stroke-width="0.51" stroke-linejoin="round"/>
<circle cx="267.8" cy="413.6" r="6.0" fill="none" stroke="#262626" stroke-width="1.02"/><path d="M263.0 413.6H272.6M267.8 408.8V418.4" fill="none" stroke="#262626" stroke-width="0.51" stroke-linejoin="round"/>
<circle cx="267.8" cy="541.2" r="6.0" fill="none" stroke="#262626" stroke-width="1.02"/><path d="M263.0 541.2H272.6M267.8 536.4V546.0" fill="none" stroke="#262626" stroke-width="0.51" stroke-linejoin="round"/>
<circle cx="204.0" cy="420.5" r="3.3" fill="none" stroke="#262626" stroke-width="0.79"/><path d="M199.5 420.5H208.5M204.0 416.0V425.0" fill="none" stroke="#262626" stroke-width="0.51" stroke-linejoin="round"/>
<circle cx="154.7" cy="448.9" r="3.3" fill="#fff" stroke="#262626" stroke-width="0.79"/>
<circle cx="154.7" cy="448.9" r="2.2" fill="none" stroke="#777" stroke-width="0.4"/>
<circle cx="154.7" cy="505.8" r="3.3" fill="#fff" stroke="#262626" stroke-width="0.79"/>
<circle cx="154.7" cy="505.8" r="2.2" fill="none" stroke="#777" stroke-width="0.4"/>
<circle cx="204.0" cy="534.3" r="3.3" fill="none" stroke="#262626" stroke-width="0.79"/><path d="M199.5 534.3H208.5M204.0 529.8V538.8" fill="none" stroke="#262626" stroke-width="0.51" stroke-linejoin="round"/>
<circle cx="253.3" cy="505.9" r="3.3" fill="#fff" stroke="#262626" stroke-width="0.79"/>
<circle cx="253.3" cy="505.9" r="2.2" fill="none" stroke="#777" stroke-width="0.4"/>
<circle cx="253.3" cy="448.9" r="3.3" fill="#fff" stroke="#262626" stroke-width="0.79"/>
<circle cx="253.3" cy="448.9" r="2.2" fill="none" stroke="#777" stroke-width="0.4"/>
<circle cx="147.3" cy="477.4" r="4.6" fill="#fff" stroke="#262626" stroke-width="0.7"/><path d="M147.3 477.4L147.3 472.8A4.6 4.6 0 0 1 151.9 477.4ZM147.3 477.4L147.3 482.0A4.6 4.6 0 0 1 142.7 477.4Z" fill="#262626"/>
<circle cx="260.9" cy="477.4" r="4.6" fill="#fff" stroke="#262626" stroke-width="0.7"/><path d="M260.9 477.4L260.9 472.8A4.6 4.6 0 0 1 265.5 477.4ZM260.9 477.4L260.9 482.0A4.6 4.6 0 0 1 256.3 477.4Z" fill="#262626"/>
<circle cx="256.9" cy="405.7" r="4.6" fill="#fff" stroke="#262626" stroke-width="0.7"/><path d="M256.9 405.7L256.9 401.1A4.6 4.6 0 0 1 261.5 405.7ZM256.9 405.7L256.9 410.3A4.6 4.6 0 0 1 252.3 405.7Z" fill="#262626"/>
<circle cx="151.0" cy="548.2" r="4.6" fill="#fff" stroke="#262626" stroke-width="0.7"/><path d="M151.0 548.2L151.0 543.6A4.6 4.6 0 0 1 155.6 548.2ZM151.0 548.2L151.0 552.8A4.6 4.6 0 0 1 146.4 548.2Z" fill="#262626"/>
<circle cx="220" cy="424.8" r="2.1" fill="#262626"/>
<circle cx="292.7" cy="464.7" r="2.0" fill="#555" stroke="#262626" stroke-width="0.79"/>
<path d="M292.7 464.7L328.5 464.7" fill="none" stroke="#262626" stroke-width="0.56" stroke-linejoin="round"/>
<path d="M258.5 463.1h8.5v3.2h-8.5a1.6 1.6 0 0 1 0 -3.2Z" fill="none" stroke="#262626" stroke-width="0.62" stroke-linejoin="round"/>
<path d="M218.8 464.7L263.0 464.7" fill="none" stroke="#262626" stroke-width="0.56" stroke-linejoin="round"/>
<circle cx="292.7" cy="490.1" r="2.0" fill="#555" stroke="#262626" stroke-width="0.79"/>
<path d="M292.7 490.1L328.5 490.1" fill="none" stroke="#262626" stroke-width="0.56" stroke-linejoin="round"/>
<path d="M258.5 488.5h8.5v3.2h-8.5a1.6 1.6 0 0 1 0 -3.2Z" fill="none" stroke="#262626" stroke-width="0.62" stroke-linejoin="round"/>
<path d="M218.8 490.1L263.0 490.1" fill="none" stroke="#262626" stroke-width="0.56" stroke-linejoin="round"/>
<path d="M253.5 463.5L298.5 500.0" fill="none" stroke="#262626" stroke-width="0.68" stroke-dasharray="4 1.6" stroke-linejoin="round"/>
<path d="M285.0 482.5L298.5 500.0" fill="none" stroke="#262626" stroke-width="0.68" stroke-dasharray="4 1.6" stroke-linejoin="round"/>
<path d="M273.5 474.3L269.8 471.5L271.7 470.0Z" fill="#262626"/>
<path d="M126.5 352.0L126.5 399.9" fill="none" stroke="#262626" stroke-width="0.56" stroke-linejoin="round"/>
<path d="M339.0 350.5L339.0 422.7" fill="none" stroke="#262626" stroke-width="0.56" stroke-linejoin="round"/>
<path d="M281.5 368.5L281.5 407.9" fill="none" stroke="#262626" stroke-width="0.56" stroke-linejoin="round"/>
<path d="M126.5 354.4L339.0 354.4" fill="none" stroke="#262626" stroke-width="0.62" stroke-linejoin="round"/><path d="M126.5 354.4L130.7 353.6L130.7 355.1Z" fill="#262626"/><path d="M339.0 354.4L334.8 355.1L334.8 353.6Z" fill="#262626"/>
<text x="234" y="352.8" text-anchor="middle" font-size="8.8" font-weight="bold" fill="#262626" textLength="25.4" lengthAdjust="spacingAndGlyphs">116.5</text>
<path d="M126.5 371.8L281.5 371.8" fill="none" stroke="#262626" stroke-width="0.62" stroke-linejoin="round"/><path d="M126.5 371.8L130.7 371.1L130.7 372.6Z" fill="#262626"/><path d="M281.5 371.8L277.3 372.6L277.3 371.1Z" fill="#262626"/>
<text x="203.5" y="370" text-anchor="middle" font-size="8.8" font-weight="bold" fill="#262626" textLength="10.6" lengthAdjust="spacingAndGlyphs">85</text>
<path d="M126.5 386.9L204.0 386.9" fill="none" stroke="#262626" stroke-width="0.62" stroke-linejoin="round"/><path d="M126.5 386.9L130.7 386.1L130.7 387.6Z" fill="#262626"/><path d="M204.0 386.9L199.8 387.6L199.8 386.1Z" fill="#262626"/>
<text x="166" y="385" text-anchor="middle" font-size="8.8" font-weight="bold" fill="#262626" textLength="20.2" lengthAdjust="spacingAndGlyphs">42.5</text>
<path d="M292.7 389.0L292.7 463.0" fill="none" stroke="#262626" stroke-width="0.56" stroke-linejoin="round"/>
<path d="M292.7 391.7L339.0 391.7" fill="none" stroke="#262626" stroke-width="0.62" stroke-linejoin="round"/><path d="M292.7 391.7L296.9 390.9L296.9 392.4Z" fill="#262626"/><path d="M339.0 391.7L334.8 392.4L334.8 390.9Z" fill="#262626"/>
<text x="316.6" y="389.8" text-anchor="middle" font-size="8.8" font-weight="bold" fill="#262626" textLength="20.2" lengthAdjust="spacingAndGlyphs">25.5</text>
<path d="M91.0 399.9L126.5 399.9" fill="none" stroke="#262626" stroke-width="0.56" stroke-linejoin="round"/>
<path d="M91.0 554.9L130.5 554.9" fill="none" stroke="#262626" stroke-width="0.56" stroke-linejoin="round"/>
<path d="M94.3 399.9L94.3 554.9" fill="none" stroke="#262626" stroke-width="0.62" stroke-linejoin="round"/><path d="M94.3 399.9L95.0 404.1L93.5 404.1Z" fill="#262626"/><path d="M94.3 554.9L93.5 550.7L95.0 550.7Z" fill="#262626"/>
<text transform="translate(92.4 477.4) rotate(-90)" text-anchor="middle" font-size="8.8" font-weight="bold" fill="#262626" textLength="10.6" lengthAdjust="spacingAndGlyphs">85</text>
<path d="M111.8 399.9L111.8 477.4" fill="none" stroke="#262626" stroke-width="0.62" stroke-linejoin="round"/><path d="M111.8 399.9L112.5 404.1L111.0 404.1Z" fill="#262626"/><path d="M111.8 477.4L111.0 473.2L112.5 473.2Z" fill="#262626"/>
<text transform="translate(109.8 436.5) rotate(-90)" text-anchor="middle" font-size="8.8" font-weight="bold" fill="#262626" textLength="21.2" lengthAdjust="spacingAndGlyphs">42.5</text>
<path d="M221.2 464.7L221.2 490.1" fill="none" stroke="#262626" stroke-width="0.62" stroke-linejoin="round"/><path d="M221.2 464.7L221.9 468.9L220.4 468.9Z" fill="#262626"/><path d="M221.2 490.1L220.4 485.9L221.9 485.9Z" fill="#262626"/>
<text transform="translate(219.6 477.4) rotate(-90)" text-anchor="middle" font-size="8.8" font-weight="bold" fill="#262626" textLength="9.8" lengthAdjust="spacingAndGlyphs">14</text>
<path d="M325.7 464.7L325.7 490.1" fill="none" stroke="#262626" stroke-width="0.62" stroke-linejoin="round"/><path d="M325.7 464.7L326.4 468.9L324.9 468.9Z" fill="#262626"/><path d="M325.7 490.1L324.9 485.9L326.4 485.9Z" fill="#262626"/>
<text transform="translate(323.5 475.3) rotate(-90)" text-anchor="middle" font-size="8.8" font-weight="bold" fill="#262626" textLength="9.8" lengthAdjust="spacingAndGlyphs">14</text>
<path d="M339.0 422.7L360.5 422.7" fill="none" stroke="#262626" stroke-width="0.56" stroke-linejoin="round"/>
<path d="M337.0 532.1L360.5 532.1" fill="none" stroke="#262626" stroke-width="0.56" stroke-linejoin="round"/>
<path d="M356.4 422.7L356.4 532.1" fill="none" stroke="#262626" stroke-width="0.62" stroke-linejoin="round"/><path d="M356.4 422.7L357.1 426.9L355.6 426.9Z" fill="#262626"/><path d="M356.4 532.1L355.6 527.9L357.1 527.9Z" fill="#262626"/>
<text transform="translate(355 475.5) rotate(-90)" text-anchor="middle" font-size="8.8" font-weight="bold" fill="#262626" textLength="10.2" lengthAdjust="spacingAndGlyphs">60</text>
<text x="234.2" y="385.6" font-size="12.4" font-weight="bold" fill="#262626" textLength="37.6" lengthAdjust="spacingAndGlyphs">旋转部</text>
<path d="M272.6 386.9L227.7 386.9L220.3 423.5" fill="none" stroke="#262626" stroke-width="0.62" stroke-linejoin="round"/>
<text x="326.3" y="541.6" font-size="9.9" font-weight="bold" fill="#262626" textLength="47.4" lengthAdjust="spacingAndGlyphs">2-M2.5×4</text>
<path d="M371.5 543.4L322.2 543.4L293.6 491.6" fill="none" stroke="#262626" stroke-width="0.62" stroke-linejoin="round"/>
<text x="329.3" y="552.3" font-size="9.9" font-weight="bold" fill="#262626" textLength="47" lengthAdjust="spacingAndGlyphs">2-M2.5×4</text>
<path d="M373.3 554.5L320.0 554.5L270.5 470.5" fill="none" stroke="#262626" stroke-width="0.62" stroke-linejoin="round"/>
<text x="321" y="565.2" font-size="9.9" font-weight="bold" fill="#262626" textLength="20.7" lengthAdjust="spacingAndGlyphs">2-ø5</text>
<text x="350.7" y="561" font-size="6.2" font-weight="bold" fill="#262626" textLength="19.9" lengthAdjust="spacingAndGlyphs">+0.012</text>
<text x="351.2" y="567.8" font-size="6.2" font-weight="bold" fill="#262626">0</text>
<text x="374.2" y="565.2" font-size="9.9" font-weight="bold" fill="#262626" textLength="34.2" lengthAdjust="spacingAndGlyphs">×6 EQS</text>
<path d="M405.6 569.6L315.6 569.6L262.0 481.5" fill="none" stroke="#262626" stroke-width="0.62" stroke-linejoin="round"/>
<text x="294.8" y="580.1" font-size="9.9" font-weight="bold" fill="#262626" textLength="63.1" lengthAdjust="spacingAndGlyphs">4-ø 6.5 THRU</text>
<path d="M357.8 582.0L292.0 582.0L270.6 546.3" fill="none" stroke="#262626" stroke-width="0.62" stroke-linejoin="round"/>
<path d="M270.8 546.6L273.6 549.8L272.3 550.6Z" fill="#262626"/>
<text x="63.8" y="570.5" font-size="9.9" font-weight="bold" fill="#262626" textLength="23.3" lengthAdjust="spacingAndGlyphs">2-ø 5</text>
<text x="92.2" y="566.3" font-size="6.2" font-weight="bold" fill="#262626" textLength="20.4" lengthAdjust="spacingAndGlyphs">+0.012</text>
<text x="93.2" y="573" font-size="6.2" font-weight="bold" fill="#262626">0</text>
<text x="116.1" y="570.5" font-size="9.9" font-weight="bold" fill="#262626" textLength="25.1" lengthAdjust="spacingAndGlyphs">THRU</text>
<path d="M63.3 573.4L139.3 573.4L149.2 553.5" fill="none" stroke="#262626" stroke-width="0.62" stroke-linejoin="round"/>
<path d="M149.4 553.2L148.2 557.3L146.8 556.6Z" fill="#262626"/>
<text x="71.7" y="583" font-size="9.9" font-weight="bold" fill="#262626" textLength="24.6" lengthAdjust="spacingAndGlyphs">P.C.D</text>
<text x="99" y="583" font-size="9.9" font-weight="bold" fill="#262626" textLength="51.4" lengthAdjust="spacingAndGlyphs">ø62.5±0.1</text>
<path d="M70.7 585.2L152.7 585.2L204.0 477.4" fill="none" stroke="#262626" stroke-width="0.62" stroke-linejoin="round"/>
<text x="122.8" y="594.1" font-size="9.9" font-weight="bold" fill="#262626" textLength="60.7" lengthAdjust="spacingAndGlyphs">6-M4×8 EQS</text>
<path d="M122.2 597.2L177.8 597.2L203.4 537.8" fill="none" stroke="#262626" stroke-width="0.62" stroke-linejoin="round"/>
<!-- sec_draw2 -->
<path d="M576.9 405.4H719.9Q725.9 405.4 725.9 411.4V424.0Q726.2 428.2 730.9 429.3" fill="none" stroke="#262626" stroke-width="1.02" stroke-linejoin="round"/>
<path d="M732.9 537.1Q726.4 538.5 725.9 543.5V554.4Q725.9 560.4 719.9 560.4H576.9Q570.9 560.4 570.9 554.4V411.4Q570.9 405.4 576.9 405.4" fill="none" stroke="#262626" stroke-width="1.02" stroke-linejoin="round"/>
<path d="M577.3 407.3H721.9" fill="none" stroke="#262626" stroke-width="0.68" stroke-linejoin="round"/>
<path d="M577.3 558.3H719.9" fill="none" stroke="#262626" stroke-width="0.68" stroke-linejoin="round"/>
<path d="M577.3 407.3Q573.3 407.3 573.3 411.3V554.3Q573.3 558.3 577.3 558.3" fill="none" stroke="#262626" stroke-width="0.68" stroke-linejoin="round"/>
<path d="M608.2 407.3V435.5Q608.2 441.8 601.5 441.8H573.3" fill="none" stroke="#262626" stroke-width="0.79" stroke-linejoin="round"/>
<path d="M608.2 558.3V530.7Q608.2 524.4 601.5 524.4H573.3" fill="none" stroke="#262626" stroke-width="0.79" stroke-linejoin="round"/>
<path d="M690 405.4V428.6" fill="none" stroke="#262626" stroke-width="0.79" stroke-linejoin="round"/>
<path d="M690 560.4V539" fill="none" stroke="#262626" stroke-width="0.79" stroke-linejoin="round"/>
<circle cx="584.4" cy="419.5" r="6.0" fill="none" stroke="#262626" stroke-width="1.02"/><path d="M579.4 419.5H589.4M584.4 414.5V424.5" fill="none" stroke="#262626" stroke-width="0.51" stroke-linejoin="round"/>
<circle cx="584.4" cy="547.2" r="6.0" fill="none" stroke="#262626" stroke-width="1.02"/><path d="M579.4 547.2H589.4M584.4 542.2V552.2" fill="none" stroke="#262626" stroke-width="0.51" stroke-linejoin="round"/>
<circle cx="712.3" cy="419.5" r="6.0" fill="none" stroke="#262626" stroke-width="1.02"/><path d="M707.3 419.5H717.3M712.3 414.5V424.5" fill="none" stroke="#262626" stroke-width="0.51" stroke-linejoin="round"/>
<circle cx="712.3" cy="546.8" r="6.0" fill="none" stroke="#262626" stroke-width="1.02"/><path d="M707.3 546.8H717.3M712.3 541.8V551.8" fill="none" stroke="#262626" stroke-width="0.51" stroke-linejoin="round"/>
<circle cx="595.6" cy="412.4" r="4.9" fill="none" stroke="#262626" stroke-width="1.02"/><path d="M591.5 412.4H599.7M595.6 408.3V416.5" fill="none" stroke="#262626" stroke-width="0.51" stroke-linejoin="round"/>
<circle cx="701.8" cy="554.3" r="4.9" fill="none" stroke="#262626" stroke-width="1.02"/><path d="M697.7 554.3H705.9M701.8 550.2V558.4" fill="none" stroke="#262626" stroke-width="0.51" stroke-linejoin="round"/>
<path d="M674.4 467.9A30.0 30.0 0 1 0 674.4 497.9" fill="none" stroke="#262626" stroke-width="1.02" stroke-linejoin="round"/>
<path d="M667.8 460.0L671.3 454.1A5.4 5.4 0 1 1 661.9 448.7L658.5 454.6Z" fill="#fff" stroke="none"/>
<path d="M667.8 460.0L671.3 454.1A5.4 5.4 0 1 1 661.9 448.7L658.5 454.6" fill="none" stroke="#262626" stroke-width="0.9" stroke-linejoin="round"/>
<circle cx="666.6" cy="451.4" r="5.2" fill="none" stroke="#262626" stroke-width="1.13"/>
<circle cx="666.6" cy="451.4" r="2.5" fill="none" stroke="#262626" stroke-width="0.9"/>
<path d="M638.3 454.6L634.9 448.7A5.4 5.4 0 1 1 625.5 454.1L629.0 460.0Z" fill="#fff" stroke="none"/>
<path d="M638.3 454.6L634.9 448.7A5.4 5.4 0 1 1 625.5 454.1L629.0 460.0" fill="none" stroke="#262626" stroke-width="0.9" stroke-linejoin="round"/>
<circle cx="630.2" cy="451.4" r="5.2" fill="none" stroke="#262626" stroke-width="1.13"/>
<circle cx="630.2" cy="451.4" r="2.5" fill="none" stroke="#262626" stroke-width="0.9"/>
<path d="M618.9 477.5L612.0 477.5A5.4 5.4 0 1 1 612.0 488.3L618.9 488.3Z" fill="#fff" stroke="none"/>
<path d="M618.9 477.5L612.0 477.5A5.4 5.4 0 1 1 612.0 488.3L618.9 488.3" fill="none" stroke="#262626" stroke-width="0.9" stroke-linejoin="round"/>
<circle cx="612.0" cy="482.9" r="5.2" fill="none" stroke="#262626" stroke-width="1.13"/>
<circle cx="612.0" cy="482.9" r="2.5" fill="none" stroke="#262626" stroke-width="0.9"/>
<path d="M629.0 505.8L625.5 511.7A5.4 5.4 0 1 1 634.9 517.1L638.3 511.2Z" fill="#fff" stroke="none"/>
<path d="M629.0 505.8L625.5 511.7A5.4 5.4 0 1 1 634.9 517.1L638.3 511.2" fill="none" stroke="#262626" stroke-width="0.9" stroke-linejoin="round"/>
<circle cx="630.2" cy="514.4" r="5.2" fill="none" stroke="#262626" stroke-width="1.13"/>
<circle cx="630.2" cy="514.4" r="2.5" fill="none" stroke="#262626" stroke-width="0.9"/>
<path d="M658.5 511.2L661.9 517.1A5.4 5.4 0 1 1 671.3 511.7L667.8 505.8Z" fill="#fff" stroke="none"/>
<path d="M658.5 511.2L661.9 517.1A5.4 5.4 0 1 1 671.3 511.7L667.8 505.8" fill="none" stroke="#262626" stroke-width="0.9" stroke-linejoin="round"/>
<circle cx="666.6" cy="514.4" r="5.2" fill="none" stroke="#262626" stroke-width="1.13"/>
<circle cx="666.6" cy="514.4" r="2.5" fill="none" stroke="#262626" stroke-width="0.9"/>
<path d="M532.0 482.9L845.0 482.9" fill="none" stroke="#262626" stroke-width="0.56" stroke-dasharray="14 2.5 3 2.5" stroke-linejoin="round"/>
<path d="M648.4 374.0L648.4 584.0" fill="none" stroke="#262626" stroke-width="0.56" stroke-dasharray="14 2.5 3 2.5" stroke-linejoin="round"/>
<path d="M729.3 374.0L729.3 560.0" fill="none" stroke="#262626" stroke-width="0.56" stroke-dasharray="14 2.5 3 2.5" stroke-linejoin="round"/>
<path d="M678.6 429.3H780.0L784.2 433.5V533.1L780.0 537.3H678.6L674.4 533.1V433.5Z" fill="#fff"/>
<path d="M674.4 482.9L784.2 482.9" fill="none" stroke="#262626" stroke-width="0.56" stroke-dasharray="14 2.5 3 2.5" stroke-linejoin="round"/>
<path d="M729.3 429.3L729.3 537.3" fill="none" stroke="#262626" stroke-width="0.56" stroke-dasharray="14 2.5 3 2.5" stroke-linejoin="round"/>
<path d="M678.6 429.3H780.0L784.2 433.5V533.1L780.0 537.3H678.6L674.4 533.1V433.5Z" fill="none" stroke="#262626" stroke-width="1.13" stroke-linejoin="round"/>
<circle cx="729.3" cy="483.3" r="63.8" fill="none" stroke="#262626" stroke-width="0.56" stroke-dasharray="9 2.2 2 2.2"/>
<circle cx="729.3" cy="483.3" r="45.6" fill="none" stroke="#262626" stroke-width="1.13"/>
<circle cx="729.3" cy="483.3" r="35.5" fill="none" stroke="#262626" stroke-width="1.02"/>
<circle cx="729.3" cy="483.3" r="16.9" fill="none" stroke="#262626" stroke-width="1.69"/>
<circle cx="729.3" cy="483.3" r="14.6" fill="none" stroke="#262626" stroke-width="0.9"/>
<circle cx="729.3" cy="483.3" r="12.3" fill="none" stroke="#262626" stroke-width="1.02" stroke-dasharray="13.5 2"/>
<circle cx="729.3" cy="483.3" r="8.9" fill="none" stroke="#262626" stroke-width="0.62"/>
<path d="M727.9 466.4V448.5h2.8V466.4" fill="#bbb" stroke="#262626" stroke-width="0.79" stroke-linejoin="round"/>
<path d="M724.3 500.8A5 5 0 0 0 734.3 500.8" fill="none" stroke="#262626" stroke-width="0.79" stroke-linejoin="round"/>
<path d="M702.5 455.5l3.5 -1.2l-3 3.6z" fill="none" stroke="#262626" stroke-width="0.68" stroke-linejoin="round"/>
<path d="M745.5 451.3l3 0.6l0.3 2.4" fill="none" stroke="#262626" stroke-width="0.68" stroke-linejoin="round"/>
<circle cx="697.3" cy="438.7" r="8.1" fill="#fff" stroke="#262626" stroke-width="1.36"/>
<circle cx="697.3" cy="438.7" r="3.9" fill="none" stroke="#262626" stroke-width="1.02"/>
<circle cx="683.9" cy="438.6" r="2.8" fill="#fff" stroke="#262626" stroke-width="0.79"/>
<circle cx="697.3" cy="527.9" r="8.1" fill="#fff" stroke="#262626" stroke-width="1.36"/>
<circle cx="697.3" cy="527.9" r="3.9" fill="none" stroke="#262626" stroke-width="1.02"/>
<circle cx="683.9" cy="528.0" r="2.8" fill="#fff" stroke="#262626" stroke-width="0.79"/>
<circle cx="761.3" cy="438.7" r="8.1" fill="#fff" stroke="#262626" stroke-width="1.36"/>
<circle cx="761.3" cy="438.7" r="3.9" fill="none" stroke="#262626" stroke-width="1.02"/>
<circle cx="774.7" cy="438.6" r="2.8" fill="#fff" stroke="#262626" stroke-width="0.79"/>
<circle cx="761.3" cy="527.9" r="8.1" fill="#fff" stroke="#262626" stroke-width="1.36"/>
<circle cx="761.3" cy="527.9" r="3.9" fill="none" stroke="#262626" stroke-width="1.02"/>
<circle cx="774.7" cy="528.0" r="2.8" fill="#fff" stroke="#262626" stroke-width="0.79"/>
<path d="M584.6 375.3L584.6 414.0" fill="none" stroke="#262626" stroke-width="0.56" stroke-linejoin="round"/>
<path d="M595.8 389.0L595.8 408.0" fill="none" stroke="#262626" stroke-width="0.56" stroke-linejoin="round"/>
<path d="M712.4 389.0L712.4 414.0" fill="none" stroke="#262626" stroke-width="0.56" stroke-linejoin="round"/>
<path d="M584.6 378.6L648.4 378.6" fill="none" stroke="#262626" stroke-width="0.62" stroke-linejoin="round"/><path d="M584.6 378.6L588.8 377.9L588.8 379.4Z" fill="#262626"/><path d="M648.4 378.6L644.2 379.4L644.2 377.9Z" fill="#262626"/>
<text x="617.5" y="376.9" text-anchor="middle" font-size="9.1" font-weight="bold" fill="#262626" textLength="10.9" lengthAdjust="spacingAndGlyphs">35</text>
<path d="M648.4 378.6L729.3 378.6" fill="none" stroke="#262626" stroke-width="0.62" stroke-linejoin="round"/><path d="M648.4 378.6L652.6 377.9L652.6 379.4Z" fill="#262626"/><path d="M729.3 378.6L725.1 379.4L725.1 377.9Z" fill="#262626"/>
<text x="689.8" y="376.9" text-anchor="middle" font-size="9.1" font-weight="bold" fill="#262626" textLength="11.4" lengthAdjust="spacingAndGlyphs">44</text>
<path d="M595.8 391.9L648.4 391.9" fill="none" stroke="#262626" stroke-width="0.62" stroke-linejoin="round"/><path d="M595.8 391.9L600.0 391.1L600.0 392.6Z" fill="#262626"/><path d="M648.4 391.9L644.2 392.6L644.2 391.1Z" fill="#262626"/>
<text x="622.9" y="390.3" text-anchor="middle" font-size="9.1" font-weight="bold" fill="#262626" textLength="10.9" lengthAdjust="spacingAndGlyphs">29</text>
<path d="M648.4 391.9L712.4 391.9" fill="none" stroke="#262626" stroke-width="0.62" stroke-linejoin="round"/><path d="M648.4 391.9L652.6 391.1L652.6 392.6Z" fill="#262626"/><path d="M712.4 391.9L708.2 392.6L708.2 391.1Z" fill="#262626"/>
<text x="681.5" y="390.3" text-anchor="middle" font-size="9.1" font-weight="bold" fill="#262626" textLength="10.9" lengthAdjust="spacingAndGlyphs">35</text>
<path d="M533.0 412.6L595.6 412.6" fill="none" stroke="#262626" stroke-width="0.56" stroke-linejoin="round"/>
<path d="M550.4 419.6L718.5 419.6" fill="none" stroke="#262626" stroke-width="0.56" stroke-linejoin="round"/>
<path d="M550.4 547.2L718.5 547.2" fill="none" stroke="#262626" stroke-width="0.56" stroke-linejoin="round"/>
<path d="M533.0 554.4L701.8 554.4" fill="none" stroke="#262626" stroke-width="0.56" stroke-linejoin="round"/>
<path d="M536.0 412.6L536.0 482.9" fill="none" stroke="#262626" stroke-width="0.62" stroke-linejoin="round"/><path d="M536.0 412.6L536.8 416.8L535.2 416.8Z" fill="#262626"/><path d="M536.0 482.9L535.2 478.7L536.8 478.7Z" fill="#262626"/>
<path d="M536.0 482.9L536.0 554.4" fill="none" stroke="#262626" stroke-width="0.62" stroke-linejoin="round"/><path d="M536.0 482.9L536.8 487.1L535.2 487.1Z" fill="#262626"/><path d="M536.0 554.4L535.2 550.2L536.8 550.2Z" fill="#262626"/>
<path d="M553.8 419.6L553.8 482.9" fill="none" stroke="#262626" stroke-width="0.62" stroke-linejoin="round"/><path d="M553.8 419.6L554.5 423.8L553.0 423.8Z" fill="#262626"/><path d="M553.8 482.9L553.0 478.7L554.5 478.7Z" fill="#262626"/>
<path d="M553.8 482.9L553.8 547.2" fill="none" stroke="#262626" stroke-width="0.62" stroke-linejoin="round"/><path d="M553.8 482.9L554.5 487.1L553.0 487.1Z" fill="#262626"/><path d="M553.8 547.2L553.0 543.0L554.5 543.0Z" fill="#262626"/>
<text transform="translate(534.3 446.5) rotate(-90)" text-anchor="middle" font-size="9.1" font-weight="bold" fill="#262626" textLength="11.1" lengthAdjust="spacingAndGlyphs">39</text>
<text transform="translate(552.1 450) rotate(-90)" text-anchor="middle" font-size="9.1" font-weight="bold" fill="#262626" textLength="11.1" lengthAdjust="spacingAndGlyphs">35</text>
<text transform="translate(534.3 517.8) rotate(-90)" text-anchor="middle" font-size="9.1" font-weight="bold" fill="#262626" textLength="11.1" lengthAdjust="spacingAndGlyphs">39</text>
<text transform="translate(552.1 514.5) rotate(-90)" text-anchor="middle" font-size="9.1" font-weight="bold" fill="#262626" textLength="11.1" lengthAdjust="spacingAndGlyphs">35</text>
<path d="M701.8 559.0L701.8 583.5" fill="none" stroke="#262626" stroke-width="0.56" stroke-linejoin="round"/>
<path d="M648.4 581.8L701.8 581.8" fill="none" stroke="#262626" stroke-width="0.62" stroke-linejoin="round"/><path d="M648.4 581.8L652.6 581.0L652.6 582.5Z" fill="#262626"/><path d="M701.8 581.8L697.6 582.5L697.6 581.0Z" fill="#262626"/>
<text x="675.4" y="579.7" text-anchor="middle" font-size="9.1" font-weight="bold" fill="#262626" textLength="10.9" lengthAdjust="spacingAndGlyphs">29</text>
<path d="M784.2 429.3L813.0 429.3" fill="none" stroke="#262626" stroke-width="0.56" stroke-linejoin="round"/>
<path d="M784.2 537.3L813.0 537.3" fill="none" stroke="#262626" stroke-width="0.56" stroke-linejoin="round"/>
<path d="M809.7 429.3L809.7 537.3" fill="none" stroke="#262626" stroke-width="0.62" stroke-linejoin="round"/><path d="M809.7 429.3L810.5 433.5L809.0 433.5Z" fill="#262626"/><path d="M809.7 537.3L809.0 533.1L810.5 533.1Z" fill="#262626"/>
<text transform="translate(808 477) rotate(-90)" text-anchor="middle" font-size="9.1" font-weight="bold" fill="#262626" textLength="10.9" lengthAdjust="spacingAndGlyphs">60</text>
<rect x="801.2" y="485.5" width="6.4" height="6.4" fill="none" stroke="#262626" stroke-width="0.6"/>
<text x="763.8" y="401.9" font-size="9.7" font-weight="bold" fill="#262626" textLength="38.4" lengthAdjust="spacingAndGlyphs">马达凸圆</text>
<text x="804" y="401.9" font-size="9.9" font-weight="bold" fill="#262626" textLength="17.3" lengthAdjust="spacingAndGlyphs">ø50</text>
<path d="M823.3 404.1L762.7 404.1L732.5 477.0" fill="none" stroke="#262626" stroke-width="0.62" stroke-linejoin="round"/>
<text x="775.4" y="416.6" font-size="9.7" font-weight="bold" fill="#262626" textLength="48.4" lengthAdjust="spacingAndGlyphs">入力轴孔径</text>
<text x="826.2" y="416.6" font-size="9.9" font-weight="bold" fill="#262626" textLength="17.5" lengthAdjust="spacingAndGlyphs">ø14</text>
<path d="M844.4 420.7L773.3 420.7L738.6 469.5" fill="none" stroke="#262626" stroke-width="0.62" stroke-linejoin="round"/>
<text x="801.4" y="555" font-size="9.9" font-weight="bold" fill="#262626" textLength="67" lengthAdjust="spacingAndGlyphs">4-M4×14 EQS</text>
<text x="801.3" y="568" font-size="9.7" font-weight="bold" fill="#262626">(</text>
<text x="804.9" y="568" font-size="9.7" font-weight="bold" fill="#262626" textLength="48.6" lengthAdjust="spacingAndGlyphs">马达固定孔</text>
<text x="854.6" y="568" font-size="9.7" font-weight="bold" fill="#262626">)</text>
<path d="M863.3 571.2L796.7 571.2L767.0 515.0" fill="none" stroke="#262626" stroke-width="0.62" stroke-linejoin="round"/>
<path d="M767.0 515.0L769.7 518.3L768.3 519.1Z" fill="#262626"/>
<text x="785.4" y="581.7" font-size="9.9" font-weight="bold" fill="#262626" textLength="66.9" lengthAdjust="spacingAndGlyphs">P.C.Dø70±0.1</text>
<path d="M853.3 583.4L781.1 583.4L761.4 540.5" fill="none" stroke="#262626" stroke-width="0.62" stroke-linejoin="round"/>
<path d="M761.4 540.5L763.9 544.0L762.4 544.6Z" fill="#262626"/>
<path d="M729.3 483.3L709.5 529.0" fill="none" stroke="#262626" stroke-width="0.62" stroke-linejoin="round"/>
<path d="M729.3 483.3L753.0 527.0" fill="none" stroke="#262626" stroke-width="0.62" stroke-linejoin="round"/>
<!-- sec_side -->
<path d="M565.6 706.7V687.8H693.3V706.7" fill="none" stroke="#333" stroke-width="0.85" stroke-linejoin="round"/>
<path d="M565.6 689.4H693.3" fill="none" stroke="#333" stroke-width="0.56" stroke-linejoin="round"/>
<path d="M581.6 689.4V693.3H676V689.4" fill="none" stroke="#333" stroke-width="0.68" stroke-linejoin="round"/>
<path d="M551.6 706.7H736.7V727.1H551.6Z" fill="none" stroke="#333" stroke-width="0.85" stroke-linejoin="round"/>
<path d="M563.3 706.7V727.1" fill="none" stroke="#333" stroke-width="0.68" stroke-linejoin="round"/>
<path d="M576.2 706.7V727.1" fill="none" stroke="#333" stroke-width="0.68" stroke-linejoin="round"/>
<path d="M598.9 706.7V727.1" fill="none" stroke="#333" stroke-width="0.68" stroke-linejoin="round"/>
<path d="M659.3 706.7V727.1" fill="none" stroke="#333" stroke-width="0.68" stroke-linejoin="round"/>
<path d="M681.1 706.7V727.1" fill="none" stroke="#333" stroke-width="0.68" stroke-linejoin="round"/>
<path d="M693.3 706.7V727.1" fill="none" stroke="#333" stroke-width="0.68" stroke-linejoin="round"/>
<path d="M704.4 706.7V727.1" fill="none" stroke="#333" stroke-width="0.68" stroke-linejoin="round"/>
<path d="M715.6 706.7V727.1" fill="none" stroke="#333" stroke-width="0.68" stroke-linejoin="round"/>
<path d="M551.6 727.1V744.6H586.7M553.3 744.6V746.8H586.7V744.6M586.7 745.7H654.3M551.6 727.1H764V747.3" fill="none" stroke="#333" stroke-width="0.85" stroke-linejoin="round"/>
<path d="M760 727.1V747.3" fill="none" stroke="#333" stroke-width="0.68" stroke-linejoin="round"/>
<path d="M560.4 727.1V745.5" fill="none" stroke="#333" stroke-width="0.68" stroke-linejoin="round"/>
<path d="M697.3 727.1V745.5" fill="none" stroke="#333" stroke-width="0.68" stroke-linejoin="round"/>
<path d="M706.7 727.1V745.5" fill="none" stroke="#333" stroke-width="0.68" stroke-linejoin="round"/>
<path d="M717.8 727.1V745.5" fill="none" stroke="#333" stroke-width="0.68" stroke-linejoin="round"/>
<path d="M655.5 746.6h7.5" fill="none" stroke="#333" stroke-width="1.36" stroke-linejoin="round"/>
<path d="M598.9 676.5V745.6M659.3 676.5V745.6" fill="none" stroke="#333" stroke-width="0.68" stroke-dasharray="3 1.6" stroke-linejoin="round"/>
<path d="M654.3 745.7V823.3H764V747.3H654.3" fill="none" stroke="#333" stroke-width="0.85" stroke-linejoin="round"/>
<path d="M658.2 747.3V823.3M760 747.3V823.3" fill="none" stroke="#333" stroke-width="0.62" stroke-linejoin="round"/>
<path d="M654.3 782.3H764M654.3 784.2H764" fill="none" stroke="#333" stroke-width="0.79" stroke-linejoin="round"/>
<rect x="681.6" y="699.6" width="10.4" height="4.6" rx="1.2" fill="#aaa" stroke="#333" stroke-width="0.6"/>
<path d="M693.3 701.9H709" fill="none" stroke="#333" stroke-width="0.56" stroke-dasharray="3 1.5" stroke-linejoin="round"/>
<path d="M564.4 658.8L564.4 687.8" fill="none" stroke="#333" stroke-width="0.56" stroke-linejoin="round"/>
<path d="M693.3 658.8L693.3 687.8" fill="none" stroke="#333" stroke-width="0.56" stroke-linejoin="round"/>
<path d="M564.4 661.1L693.3 661.1" fill="none" stroke="#333" stroke-width="0.62" stroke-linejoin="round"/><path d="M564.4 661.1L568.6 660.4L568.6 661.9Z" fill="#333"/><path d="M693.3 661.1L689.1 661.9L689.1 660.4Z" fill="#333"/>
<text x="608.8" y="657.8" font-size="9.9" font-weight="bold" fill="#333" textLength="19.7" lengthAdjust="spacingAndGlyphs">ø 70</text>
<text x="634.8" y="652.4" font-size="6.2" font-weight="bold" fill="#333">0</text>
<text x="633.1" y="659.8" font-size="6.2" font-weight="bold" fill="#333" textLength="16.5" lengthAdjust="spacingAndGlyphs">-0.02</text>
<text x="597" y="675" font-size="10" font-weight="bold" fill="#333" textLength="39.2" lengthAdjust="spacingAndGlyphs">中空孔径</text>
<text x="638.4" y="675" font-size="9.9" font-weight="bold" fill="#333" textLength="18.9" lengthAdjust="spacingAndGlyphs">ø 33</text>
<path d="M598.9 678.3L659.3 678.3" fill="none" stroke="#333" stroke-width="0.62" stroke-linejoin="round"/><path d="M598.9 678.3L603.1 677.5L603.1 679.0Z" fill="#333"/><path d="M659.3 678.3L655.1 679.0L655.1 677.5Z" fill="#333"/>
<path d="M706.2 659.3L706.2 688.2" fill="none" stroke="#333" stroke-width="0.56" stroke-linejoin="round"/>
<path d="M706.2 688.2L705.5 684.0L707.0 684.0Z" fill="#333"/>
<path d="M706.2 701.9L706.2 713.5" fill="none" stroke="#333" stroke-width="0.56" stroke-linejoin="round"/>
<path d="M706.2 701.9L707.0 706.1L705.5 706.1Z" fill="#333"/>
<text transform="translate(704.3 667.8) rotate(-90)" text-anchor="middle" font-size="9.1" font-weight="bold" fill="#333" textLength="13" lengthAdjust="spacingAndGlyphs">7.5</text>
<path d="M693.3 688.2L834.4 688.2" fill="none" stroke="#333" stroke-width="0.56" stroke-linejoin="round"/>
<path d="M742.2 707.3L812.2 707.3" fill="none" stroke="#333" stroke-width="0.56" stroke-linejoin="round"/>
<path d="M768.9 727.3L791.5 727.3" fill="none" stroke="#333" stroke-width="0.56" stroke-linejoin="round"/>
<path d="M768.9 747.3L834.4 747.3" fill="none" stroke="#333" stroke-width="0.56" stroke-linejoin="round"/>
<path d="M768.9 823.3L834.4 823.3" fill="none" stroke="#333" stroke-width="0.56" stroke-linejoin="round"/>
<path d="M788.9 727.3L788.9 747.3" fill="none" stroke="#333" stroke-width="0.62" stroke-linejoin="round"/><path d="M788.9 727.3L789.6 731.5L788.1 731.5Z" fill="#333"/><path d="M788.9 747.3L788.1 743.1L789.6 743.1Z" fill="#333"/>
<text transform="translate(787 736.8) rotate(-90)" text-anchor="middle" font-size="9.1" font-weight="bold" fill="#333" textLength="9.6" lengthAdjust="spacingAndGlyphs">11</text>
<path d="M809.3 707.3L809.3 747.3" fill="none" stroke="#333" stroke-width="0.62" stroke-linejoin="round"/><path d="M809.3 707.3L810.0 711.5L808.5 711.5Z" fill="#333"/><path d="M809.3 747.3L808.5 743.1L810.0 743.1Z" fill="#333"/>
<text transform="translate(807.6 726.4) rotate(-90)" text-anchor="middle" font-size="9.1" font-weight="bold" fill="#333" textLength="10.9" lengthAdjust="spacingAndGlyphs">22</text>
<path d="M831.1 688.2L831.1 747.3" fill="none" stroke="#333" stroke-width="0.62" stroke-linejoin="round"/><path d="M831.1 688.2L831.9 692.4L830.4 692.4Z" fill="#333"/><path d="M831.1 747.3L830.4 743.1L831.9 743.1Z" fill="#333"/>
<text transform="translate(829.4 717.4) rotate(-90)" text-anchor="middle" font-size="9.1" font-weight="bold" fill="#333" textLength="19.2" lengthAdjust="spacingAndGlyphs">32.2</text>
<path d="M831.1 747.3L831.1 823.3" fill="none" stroke="#333" stroke-width="0.62" stroke-linejoin="round"/><path d="M831.1 747.3L831.9 751.5L830.4 751.5Z" fill="#333"/><path d="M831.1 823.3L830.4 819.1L831.9 819.1Z" fill="#333"/>
<text transform="translate(829.4 785) rotate(-90)" text-anchor="middle" font-size="9.1" font-weight="bold" fill="#333" textLength="10.9" lengthAdjust="spacingAndGlyphs">42</text>
<!-- sec_tables -->
<rect x="10.4" y="866.2" width="482.6" height="29.8" fill="#e9e9ea"/>
<path d="M10.4 866.2H493.0V1252.3H10.4ZM10.4 896.0H493.0M10.4 925.5H493.0M10.4 955.1H493.0M10.4 985.2H493.0M10.4 1014.7H493.0M10.4 1044.6H493.0M10.4 1074.4H493.0M10.4 1104.3H493.0M10.4 1134.0H493.0M10.4 1163.6H493.0M10.4 1193.5H493.0M10.4 1223.1H493.0M333.6 896.0V1252.3" fill="none" stroke="#85858a" stroke-width="1.15"/>
<text x="167.8" y="885.7" font-size="13.6" fill="#3a3a3c" textLength="54.4" lengthAdjust="spacingAndGlyphs">性能参数</text>
<text x="226.4" y="886.1" font-size="14.6" fill="#3a3a3c" textLength="157.8" lengthAdjust="spacingAndGlyphs">Performance parameter</text>
<text x="20" y="915.3" font-size="13.6" fill="#3a3a3c" textLength="81.4" lengthAdjust="spacingAndGlyphs">旋转平台轴承</text>
<text x="106.8" y="915.8" font-size="13.6" fill="#3a3a3c" textLength="152.2" lengthAdjust="spacingAndGlyphs">Rotating platform bearings</text>
<text x="372.8" y="915.3" font-size="13.6" fill="#3a3a3c" textLength="80.8" lengthAdjust="spacingAndGlyphs">交叉滚子轴承</text>
<text x="20" y="944.8" font-size="13.6" fill="#3a3a3c" textLength="40.4" lengthAdjust="spacingAndGlyphs">减速比</text>
<text x="66.0" y="945.3" font-size="13.6" fill="#3a3a3c" textLength="87.5" lengthAdjust="spacingAndGlyphs">Reduction ratio</text>
<text x="406.5" y="945.3" font-size="14.6" fill="#3a3a3c" textLength="14.2" lengthAdjust="spacingAndGlyphs">10</text>
<text x="20" y="974.7" font-size="13.6" fill="#3a3a3c" textLength="54.2" lengthAdjust="spacingAndGlyphs">容许扭矩</text>
<text x="79.6" y="975.2" font-size="13.6" fill="#3a3a3c" textLength="95.9" lengthAdjust="spacingAndGlyphs">Allowable torque</text>
<text x="394.8" y="975.2" font-size="14.6" fill="#3a3a3c" textLength="37.7" lengthAdjust="spacingAndGlyphs">16Nm</text>
<text x="20" y="1004.5" font-size="13.6" fill="#3a3a3c" textLength="81.4" lengthAdjust="spacingAndGlyphs">额定输出转速</text>
<text x="106.8" y="1005.0" font-size="13.6" fill="#3a3a3c" textLength="112.6" lengthAdjust="spacingAndGlyphs">Rated output speed</text>
<text x="388.6" y="1005.0" font-size="14.6" fill="#3a3a3c" textLength="50.1" lengthAdjust="spacingAndGlyphs">200rpm</text>
<text x="20" y="1034.2" font-size="13.6" fill="#3a3a3c" textLength="54.2" lengthAdjust="spacingAndGlyphs">传达精度</text>
<text x="79.6" y="1034.7" font-size="13.6" fill="#3a3a3c" textLength="145.9" lengthAdjust="spacingAndGlyphs">Communication accuracy</text>
<text x="387.0" y="1034.7" font-size="14.6" fill="#3a3a3c" textLength="53.3" lengthAdjust="spacingAndGlyphs">3arcmin</text>
<text x="20" y="1064" font-size="13.6" fill="#3a3a3c" textLength="81.4" lengthAdjust="spacingAndGlyphs">重复定位精度</text>
<text x="106.8" y="1064.5" font-size="13.6" fill="#3a3a3c" textLength="74.2" lengthAdjust="spacingAndGlyphs">Repeatability</text>
<text x="383.6" y="1064.5" font-size="14.6" fill="#3a3a3c" textLength="60.0" lengthAdjust="spacingAndGlyphs">10arcsec</text>
<text x="20" y="1093.8" font-size="13.6" fill="#3a3a3c" textLength="95" lengthAdjust="spacingAndGlyphs">旋转平台平面度</text>
<text x="120.4" y="1094.3" font-size="13.6" fill="#3a3a3c" textLength="161.3" lengthAdjust="spacingAndGlyphs">Flatness of rotating platform</text>
<text x="386.8" y="1094.3" font-size="14.6" fill="#3a3a3c" textLength="53.6" lengthAdjust="spacingAndGlyphs">0.01mm</text>
<text x="20" y="1123.7" font-size="13.6" fill="#3a3a3c" textLength="95" lengthAdjust="spacingAndGlyphs">输出端外圆跳动</text>
<text x="120.4" y="1124.2" font-size="13.6" fill="#3a3a3c" textLength="166.6" lengthAdjust="spacingAndGlyphs">Outer circle beating at output</text>
<text x="386.8" y="1124.2" font-size="14.6" fill="#3a3a3c" textLength="53.6" lengthAdjust="spacingAndGlyphs">0.01mm</text>
<text x="20" y="1153.3" font-size="13.6" fill="#3a3a3c" textLength="81.4" lengthAdjust="spacingAndGlyphs">最大轴向负载</text>
<text x="106.8" y="1153.8" font-size="13.6" fill="#3a3a3c" textLength="113.4" lengthAdjust="spacingAndGlyphs">Maximum axial load</text>
<text x="389.7" y="1153.8" font-size="14.6" fill="#3a3a3c" textLength="47.8" lengthAdjust="spacingAndGlyphs">500Nm</text>
<text x="20" y="1183" font-size="13.6" fill="#3a3a3c" textLength="54.2" lengthAdjust="spacingAndGlyphs">平均寿命</text>
<text x="79.6" y="1183.5" font-size="13.6" fill="#3a3a3c" textLength="99.9" lengthAdjust="spacingAndGlyphs">Average life span</text>
<text x="389.2" y="1183.5" font-size="14.6" fill="#3a3a3c" textLength="48.7" lengthAdjust="spacingAndGlyphs">20000h</text>
<text x="20" y="1212.8" font-size="13.6" fill="#3a3a3c" textLength="27" lengthAdjust="spacingAndGlyphs">背隙</text>
<text x="52.3" y="1213.3" font-size="13.6" fill="#3a3a3c" textLength="52.5" lengthAdjust="spacingAndGlyphs">Backlash</text>
<text x="383.6" y="1213.3" font-size="14.6" fill="#3a3a3c" textLength="60.0" lengthAdjust="spacingAndGlyphs">15arcsec</text>
<text x="20" y="1242.2" font-size="13.6" fill="#3a3a3c" textLength="27" lengthAdjust="spacingAndGlyphs">噪音</text>
<text x="52.3" y="1242.7" font-size="13.6" fill="#3a3a3c" textLength="30.0" lengthAdjust="spacingAndGlyphs">noise</text>
<path d="M399.4 1233.1l-8.2 3.1l8.2 3.1M399.4 1242.1l-8.2 -3.1" fill="none" stroke="#3a3a3c" stroke-width="1.05"/>
<text x="401.8" y="1242.7" font-size="14.6" fill="#3a3a3c" textLength="35.3" lengthAdjust="spacingAndGlyphs">65dB</text>
<rect x="558.9" y="865.1" width="328.8" height="43.5" fill="#e9e9ea"/>
<path d="M558.9 865.1H887.7V1252.2H558.9ZM558.9 908.6H887.7M558.9 952.0H887.7M558.9 994.2H887.7M558.9 1037.2H887.7M558.9 1080.1H887.7M558.9 1123.2H887.7M558.9 1166.1H887.7M558.9 1209.2H887.7M654.2 908.6V1252.2M749.4 908.6V1252.2" fill="none" stroke="#85858a" stroke-width="1.15"/>
<text x="634.6" y="891.5" font-size="13.6" fill="#3a3a3c" textLength="54.4" lengthAdjust="spacingAndGlyphs">马达参数</text>
<text x="693.9" y="891.9" font-size="14.6" fill="#3a3a3c" textLength="117.5" lengthAdjust="spacingAndGlyphs">Motor parameters</text>
<text x="593.2" y="926.3" font-size="13" fill="#3a3a3c" textLength="26" lengthAdjust="spacingAndGlyphs">品牌</text>
<text x="588.5" y="942.5" font-size="13.0" fill="#3a3a3c" textLength="35.0" lengthAdjust="spacingAndGlyphs">Brand</text>
<text x="688" y="926.3" font-size="13" fill="#3a3a3c" textLength="26.4" lengthAdjust="spacingAndGlyphs">代码</text>
<text x="685.9" y="942.5" font-size="13.0" fill="#3a3a3c" textLength="31.0" lengthAdjust="spacingAndGlyphs">Code</text>
<text x="805" y="926.3" font-size="13" fill="#3a3a3c" textLength="26.4" lengthAdjust="spacingAndGlyphs">规格</text>
<text x="782.1" y="942.5" font-size="13.0" fill="#3a3a3c" textLength="72.0" lengthAdjust="spacingAndGlyphs">specification</text>
<text x="593" y="977.8" font-size="13" fill="#3a3a3c" textLength="26.2" lengthAdjust="spacingAndGlyphs">富士</text>
<text x="695.0" y="978.3" font-size="14.6" fill="#3a3a3c" text-anchor="middle">F</text>
<text x="778.8" y="978.3" font-size="14.6" fill="#3a3a3c" textLength="79.6" lengthAdjust="spacingAndGlyphs">GYS 201D5</text>
<text x="593" y="1020.4" font-size="13" fill="#3a3a3c" textLength="26.2" lengthAdjust="spacingAndGlyphs">三菱</text>
<text x="695.0" y="1020.9" font-size="14.6" fill="#3a3a3c" text-anchor="middle">M</text>
<text x="766.0" y="1020.9" font-size="14.6" fill="#3a3a3c" textLength="105.2" lengthAdjust="spacingAndGlyphs">HF–KFS–23/43</text>
<text x="592.8" y="1063.4" font-size="13" fill="#3a3a3c" textLength="26.2" lengthAdjust="spacingAndGlyphs">松下</text>
<text x="695.0" y="1063.9" font-size="14.6" fill="#3a3a3c" text-anchor="middle">P</text>
<text x="764.2" y="1063.9" font-size="14.6" fill="#3a3a3c" textLength="108.8" lengthAdjust="spacingAndGlyphs">MSMD–022/042</text>
<text x="593" y="1106.4" font-size="13" fill="#3a3a3c" textLength="26.2" lengthAdjust="spacingAndGlyphs">三洋</text>
<text x="695.0" y="1106.9" font-size="14.6" fill="#3a3a3c" text-anchor="middle">S</text>
<text x="772.2" y="1106.9" font-size="14.6" fill="#3a3a3c" textLength="92.8" lengthAdjust="spacingAndGlyphs">Q1AA06020D</text>
<text x="593" y="1149.4" font-size="13" fill="#3a3a3c" textLength="26.2" lengthAdjust="spacingAndGlyphs">安川</text>
<text x="695.0" y="1149.9" font-size="14.6" fill="#3a3a3c" text-anchor="middle">Y</text>
<text x="762.6" y="1149.9" font-size="14.6" fill="#3a3a3c" textLength="112.0" lengthAdjust="spacingAndGlyphs">SGMAH–02/04A</text>
<text x="593" y="1192.4" font-size="13" fill="#3a3a3c" textLength="26.2" lengthAdjust="spacingAndGlyphs">东方</text>
<text x="695.0" y="1192.9" font-size="14.6" fill="#3a3a3c" text-anchor="middle">O</text>
<text x="781.2" y="1192.9" font-size="14.6" fill="#3a3a3c" textLength="74.8" lengthAdjust="spacingAndGlyphs">DX220/240</text>
<text x="593" y="1235.4" font-size="13" fill="#3a3a3c" textLength="26.2" lengthAdjust="spacingAndGlyphs">台达</text>
<text x="695.0" y="1235.9" font-size="14.6" fill="#3a3a3c" text-anchor="middle">T</text>
<text x="756.0" y="1235.9" font-size="14.6" fill="#3a3a3c" textLength="125.2" lengthAdjust="spacingAndGlyphs">ECMA–C30602/04</text>
<text class="sf" x="10.4" y="1282.2" font-size="11.9" fill="#333" textLength="131" lengthAdjust="spacingAndGlyphs">伺服马达由客户自行配置</text>
<text x="142.0" y="1282.2" font-size="11.8" fill="#333" class="sf">,</text>
<text class="sf" x="149.8" y="1282.2" font-size="11.9" fill="#333" textLength="107" lengthAdjust="spacingAndGlyphs">以上规格仅供参考。</text>
<text x="10.2" y="1299.8" font-size="12.6" fill="#333" textLength="472.0" lengthAdjust="spacingAndGlyphs" class="sf">The servo motor is configured by the customer. The above specifications are for reference only.</text>
</svg>
</body></html>
